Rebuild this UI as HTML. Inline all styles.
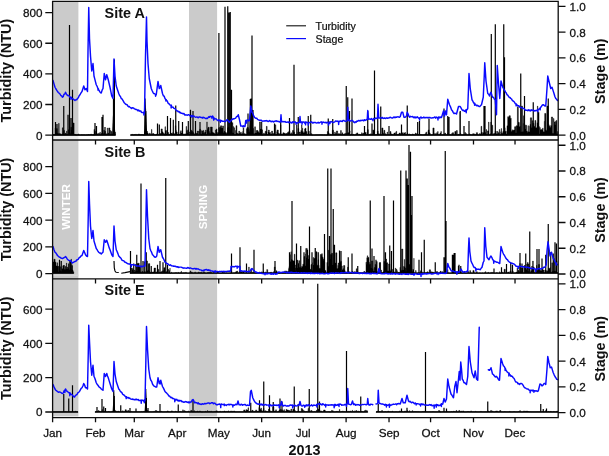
<!DOCTYPE html>
<html><head><meta charset="utf-8"><title>Turbidity and Stage 2013</title>
<style>html,body{margin:0;padding:0;background:#fff}svg{display:block}</style></head>
<body>
<svg width="609" height="456" viewBox="0 0 609 456">
<rect width="609" height="456" fill="#fff"/>
<rect x="52.6" y="1.4" width="25.8" height="134.4" fill="#cbcbcb"/>
<rect x="52.6" y="135.8" width="25.8" height="3.8" fill="#ededed"/>
<rect x="52.6" y="140" width="25.8" height="276.4" fill="#cbcbcb"/>
<rect x="52.6" y="274.6" width="25.8" height="1.2" fill="#d6d6d6"/>
<rect x="189" y="1.4" width="28.1" height="134.4" fill="#cbcbcb"/>
<rect x="189" y="135.8" width="28.1" height="3.8" fill="#ededed"/>
<rect x="189" y="140" width="28.1" height="276.4" fill="#cbcbcb"/>
<rect x="189" y="274.6" width="28.1" height="1.2" fill="#d6d6d6"/>
<text transform="translate(69.5,207) rotate(-90)" text-anchor="middle" font-size="11.6" font-weight="bold" fill="#fff" font-family="'Liberation Sans', sans-serif">WINTER</text>
<text transform="translate(206.8,207) rotate(-90)" text-anchor="middle" font-size="11.6" font-weight="bold" fill="#fff" font-family="'Liberation Sans', sans-serif">SPRING</text>
<path d="M53 135.4 V134.42 H54.2 V134.59 H55.1 V127.96 H55.8 V132.68 H56.2 V128.64 H57.4 V133.42 H57.8 V133.06 H58.2 V133.73 H58.7 V123.31 H59.1 V133.43 H59.5 V133.44 H60.2 V134.33 H60.6 V133.94 H61 V134.64 H61.9 V133.73 H62.4 V127.8 H63.1 V133.95 H63.6 V130.4 H64.5 V134.4 H65 V133.25 H65.9 V134.27 H66.6 V131.13 H67 V134.37 H68.2 V129.87 H68.9 V132.28 H69.8 V133.34 H70.3 V134.56 H70.8 V127.26 H71.7 V130.05 H72.9 V123.02 H74.1 V134.36 H75.3 V134.48 H76 V135.4 Z M76 135.4 V134.85 H76.5 V134.85 H77.4 V134.65 H78.1 V134.82 H78.5 V133.93 H79 V134.85 H79.4 V134.89 H80.6 V134.88 H81 V134.67 H81.4 V134.85 H82.1 V134.85 H83.3 V134.85 H83.8 V134.85 H84.7 V134.87 H85.1 V134.9 H86 V134.85 H86.4 V134.86 H87.1 V134.87 H88 V134.59 H89.2 V134.86 H89.7 V134.69 H90.6 V134.24 H91.8 V134.88 H92.7 V134.49 H93.4 V134.87 H93.9 V134.82 H94 V135.4 Z M94 135.4 V129.39 H94.5 V131.21 H95.4 V134.04 H96.6 V133.77 H97.8 V134.68 H98.5 V133.21 H99.4 V134.56 H99.9 V132.2 H100.3 V134.64 H101 V133.6 H101.9 V134.8 H103.1 V133.38 H103.8 V130.08 H104.3 V133.33 H104.7 V131.27 H105.6 V134.21 H106.5 V133.63 H107.2 V127.97 H107.6 V133.24 H108.3 V132.94 H108.7 V127.97 H109.9 V134.62 H110.4 V130.54 H110.9 V131.46 H111.8 V134.57 H112.7 V134.7 H113.1 V134.6 H114.3 V132.16 H115.5 V135.4 Z M130.5 135.4 V134.83 H131.7 V134.39 H132.9 V134.83 H134.1 V134.6 H135.3 V134.39 H136.5 V134.69 H137.4 V134.78 H138.3 V134.09 H139.5 V134.8 H140.2 V134.78 H140.7 V134.51 H141.4 V134.52 H142.6 V134.79 H143.1 V134.82 H144 V134.8 H144 V135.4 Z M144 135.4 V134.8 H144.7 V131.33 H145.2 V134.86 H145.7 V133.35 H146.6 V131.37 H147.1 V131.36 H147.5 V133.03 H148.2 V134.63 H149.4 V133.2 H150.3 V134.74 H151.5 V129.41 H151.9 V133.65 H152.3 V134.76 H152.7 V133.62 H153.9 V134.76 H154.3 V134.44 H155 V134.8 H156.2 V134.06 H157.1 V134.63 H157.8 V134.63 H158.3 V134.65 H159.5 V133.44 H160.4 V133.61 H161.1 V128.96 H162.3 V131.82 H163 V133.14 H164.2 V134.61 H164.7 V134.01 H165 V135.4 Z M165 135.4 V126.67 H165.4 V130.61 H166.6 V133.93 H167 V133.75 H168.2 V132.46 H168.7 V134.52 H169.9 V133.85 H170.8 V133.35 H172 V134 H172.7 V132.73 H173.2 V133.63 H174.1 V133.77 H175.3 V125.7 H175.8 V130.39 H176.3 V131.93 H177.2 V133.89 H177.6 V134.14 H178 V134.35 H178.5 V134.46 H179.7 V134.02 H180.2 V132.23 H180.6 V130.79 H181.3 V132.88 H182.5 V134.16 H183 V134.8 H183.4 V134.68 H183.8 V133.8 H184.2 V134.45 H184.7 V134.51 H185.2 V134.36 H185.6 V133.72 H186.1 V126.42 H186.6 V130.6 H187.3 V132.7 H187.8 V129.86 H188.5 V134.34 H189.4 V131.89 H189.8 V134.31 H190.2 V132 H190.9 V130.17 H191.6 V131.17 H192.8 V132.53 H193.5 V133.29 H194.2 V134.22 H195.4 V134.2 H196.1 V133.3 H197.3 V131.08 H198.5 V134.63 H199.2 V131.24 H199.7 V129.13 H200.6 V133.97 H201 V133.94 H201.7 V130.6 H202 V135.4 Z M202 135.4 V130.94 H202.7 V132.47 H203.1 V130.38 H203.8 V133.36 H204.7 V131.95 H205.1 V131.98 H205.6 V129.99 H206.1 V134.75 H206.8 V121.9 H207.2 V128.43 H207.6 V129.76 H208 V127.34 H209.2 V131.6 H209.7 V133.28 H210.4 V127.01 H211.1 V127.02 H212.3 V132.28 H213.2 V132.99 H214.1 V133.21 H214.5 V133.82 H215.4 V129.96 H216.3 V128.94 H217 V133.86 H217.5 V132.56 H218.7 V127.79 H219.2 V129.62 H219.6 V127.24 H220.5 V125.76 H221.7 V127.88 H222.6 V125.95 H223.5 V132.59 H224 V131.28 H224.9 V133.03 H225.3 V132.44 H226.2 V133.96 H226.6 V132.92 H227.5 V128.11 H227.9 V127.23 H229.1 V133.09 H229.8 V128.5 H230.2 V130.81 H230.9 V130.46 H231.6 V122.66 H232.8 V132.64 H233.3 V126.6 H233.7 V127.83 H234.6 V134.57 H235.5 V130.48 H236 V125.64 H236.9 V133 H237.6 V133.8 H238.8 V131.02 H239.5 V133.16 H240.7 V131.97 H241.2 V133.72 H241.7 V133.66 H242.2 V133.21 H242.7 V131.58 H243.1 V127.8 H243.8 V133.81 H244.7 V133.6 H245.2 V134.5 H246.4 V128.66 H247.1 V127.37 H247.8 V127.63 H248.5 V129.18 H248.9 V132.31 H249.4 V132.58 H250.3 V133.35 H250.8 V133.72 H251.7 V130.86 H252.2 V127.38 H252.6 V128.53 H253.5 V133.54 H254.7 V126.79 H255.4 V132.93 H256.3 V130.54 H257.5 V130.37 H257.9 V131.71 H258.8 V132.8 H259.5 V121.9 H260.4 V128.88 H261.3 V121.9 H262 V128.21 H262 V135.4 Z M262 135.4 V129.8 H262.4 V134.79 H263.6 V133.11 H264.3 V134.42 H265.2 V131.25 H266.4 V126.36 H267.1 V134.51 H268 V132.02 H268.4 V130.09 H269.3 V132.54 H270.5 V134.53 H270.9 V134.04 H271.6 V131.11 H272.5 V134.66 H272.9 V133.23 H273.4 V134.19 H274.6 V134.68 H275.3 V124.85 H275.8 V134.49 H276.7 V131.8 H277.1 V130.01 H278.3 V133.01 H278.8 V134.69 H279.3 V133.7 H280.5 V124.8 H281 V133.96 H281.7 V134.14 H282.9 V132.8 H284.1 V133.37 H285.3 V133.95 H286 V133.57 H286.9 V133.25 H287.6 V132.3 H288.8 V131.32 H290 V133.87 H290.9 V134.22 H291.3 V132.82 H291.8 V134.01 H292.5 V130.4 H293.7 V132.18 H294.6 V134.72 H295.8 V134.06 H296.5 V124.8 H297 V134.27 H297.5 V132.36 H297.9 V128.54 H298.8 V134.04 H299.2 V132.09 H300.4 V134.02 H300.9 V130.41 H301.6 V124.8 H302 V128.3 H302.7 V131.45 H303.2 V132.75 H304.1 V132.14 H304.6 V129.09 H305.1 V128.25 H306 V131.51 H306.9 V134.17 H307.6 V134.29 H308.1 V133.78 H308.6 V131.18 H309.3 V134.14 H309.7 V134.44 H310.1 V134.54 H311.3 V133.7 H312 V135.4 Z M312 135.4 V134.88 H312.5 V134.89 H313.4 V134.88 H314.1 V134.89 H315.3 V134.87 H316 V134.86 H316.9 V134.87 H317.6 V134.86 H318.8 V134.85 H319.5 V134.68 H320.4 V134.71 H321.1 V134.75 H322 V134.86 H322.5 V134.87 H323 V134.88 H323.7 V134.86 H324.4 V134.87 H325.3 V134.9 H326 V134.88 H326.7 V134.88 H327 V135.4 Z M327 135.4 V134.34 H327.4 V131.54 H328.3 V132.93 H329.2 V134.65 H329.7 V134.77 H330.6 V133.93 H331.1 V134.65 H332.3 V130.13 H333.5 V134.22 H334.2 V134.28 H334.7 V132.1 H335.2 V133.43 H336.4 V130.97 H337.6 V134.24 H338.1 V134.1 H338.5 V133.61 H339.4 V134.12 H340.6 V130.54 H341.3 V134.58 H342 V132.87 H342.7 V134.39 H343.9 V134.15 H344.4 V133.8 H344.9 V134.48 H345.4 V133.35 H345.9 V133.41 H346.8 V134.79 H347.3 V132.92 H348 V132.73 H348.9 V132.5 H349.8 V130.87 H350 V135.4 Z M350 135.4 V134.84 H350.7 V134.56 H351.1 V134.09 H352 V134.76 H353.2 V134.31 H353.9 V134.84 H354.6 V134.78 H355.3 V134.6 H355.8 V133.82 H356.7 V132.91 H357.9 V134.54 H359.1 V134.61 H359.6 V134.04 H360 V134.8 H360.4 V134.62 H361.6 V132.74 H362.1 V134.6 H362.8 V133.07 H363.7 V134.61 H364.1 V133.84 H365 V132.45 H366.2 V134.59 H367.4 V129.65 H368.3 V134.8 H369 V134.13 H369.5 V134.71 H370 V134.4 H370.7 V133.77 H371.1 V134.64 H371.6 V134.07 H372.8 V129.91 H373.3 V130.35 H374 V134.7 H374.5 V134.68 H375.4 V134.58 H376.1 V134.55 H377.3 V131.17 H378.2 V133.82 H379.4 V134.7 H380.6 V134.57 H381.3 V134.78 H381.8 V127.97 H383 V133.14 H383.9 V130.33 H384.8 V134.6 H385.3 V133.74 H386 V134.77 H386.7 V134.8 H387.1 V132.04 H387.6 V134.73 H388.5 V134.58 H388.9 V134.78 H389.4 V134.8 H390.1 V131.59 H391 V133.91 H392.2 V134.57 H392.7 V134.52 H393.2 V134.57 H393.9 V133.08 H395.1 V134.72 H395.6 V132.57 H396 V131.38 H396.7 V134.61 H397.4 V134.61 H397.8 V134.35 H398.7 V134.35 H399.1 V133.04 H400.3 V134.57 H400.7 V133.78 H401.6 V133.83 H402 V133.34 H402.7 V132.62 H403.2 V134.1 H403.9 V132.89 H405.1 V132.49 H405.6 V134.59 H406.8 V134.84 H407.2 V132.92 H407.7 V134.57 H408.9 V133.94 H409.8 V134.74 H410.2 V134.55 H411.1 V134.69 H412.3 V133.91 H413.2 V134.56 H414.4 V134.74 H415.3 V132.95 H415.7 V133.59 H416.1 V134.55 H416.5 V133.72 H417.7 V134.78 H418.1 V134.44 H418.6 V134.84 H419.1 V134.6 H419.6 V134.13 H420.1 V134.56 H421.3 V134.62 H422.2 V134.63 H422.6 V134.73 H423.8 V134.58 H425 V133.66 H425.9 V132.14 H426.8 V134.69 H428 V130.57 H428.4 V129.92 H429.1 V132.82 H430 V133.68 H430.4 V134.75 H431.3 V134.77 H431.7 V134.64 H432.2 V134.43 H432.9 V127.97 H434.1 V134.63 H434.8 V133.22 H435.2 V134.14 H435.9 V134.54 H436.6 V132.75 H437.3 V133.66 H437.7 V131.49 H438.1 V134.58 H438.8 V134.48 H440 V134.64 H440 V135.4 Z M440 135.4 V132.95 H440.4 V133.3 H440.9 V131.48 H441.3 V134.65 H441.7 V134.69 H442.1 V134.67 H443.3 V134.63 H444 V134.77 H444.7 V133.08 H445.6 V134.67 H446.5 V134.62 H446.9 V134.71 H447.6 V133.38 H448.3 V134.63 H449.2 V134.4 H450.4 V134.82 H450.8 V134.82 H451.7 V133.38 H452.4 V132.71 H453.6 V134.74 H454.8 V131.49 H456 V134.79 H456.4 V130.52 H457.3 V134.66 H458 V134.62 H458.5 V134.18 H459.2 V134.61 H459.9 V134.61 H460.6 V133.62 H461 V134.73 H461.7 V134.81 H462.4 V134.78 H463.1 V134.7 H464.3 V134.62 H464.8 V132.54 H465.5 V133.65 H466.7 V134.73 H467.2 V134.74 H467.9 V134.69 H469.1 V133.86 H469.5 V134.2 H470.2 V134.42 H470.6 V134.7 H471.8 V134.75 H472.2 V134.86 H472.7 V133.69 H473.2 V133.84 H474.4 V134.6 H474.9 V134.6 H475.4 V134.58 H476.3 V132.64 H477.5 V134.87 H478 V134.89 H478.7 V134.73 H479.2 V133.52 H479.6 V134.77 H480.5 V133.84 H481 V135.4 Z M481 135.4 V126.33 H481.7 V132.17 H482.2 V134.5 H482.7 V132.82 H483.9 V132.98 H484.3 V134.65 H485 V132.59 H485.5 V133.52 H486 V129.56 H486.5 V134.4 H487.4 V130.92 H487.9 V130.8 H488.6 V122.1 H489 V134.73 H489.9 V133.78 H490.8 V122.1 H491.3 V131.75 H491.8 V125.16 H492.7 V134.79 H493.2 V133.8 H493.9 V133.5 H495.1 V131.27 H496.3 V133.73 H496.7 V133.78 H497.4 V131.35 H497.9 V132.45 H498.6 V133.35 H499.3 V129.44 H499.8 V134.42 H500.7 V131.82 H501.2 V128.55 H501.6 V133.23 H502.8 V131.65 H503.2 V131.51 H504.4 V127.74 H505.1 V131.27 H506.3 V134.31 H507 V133.84 H507 V135.4 Z M507 135.4 V125.75 H507.7 V116.72 H508.4 V117.16 H509.1 V115.69 H510.3 V118.2 H511.2 V131.13 H512.1 V129.79 H512.5 V130.56 H513.4 V129.96 H514.6 V126.73 H515.8 V132.63 H516.2 V125.76 H517.4 V106.82 H518.3 V122.11 H518.8 V122.59 H519.3 V126.98 H519.7 V126.38 H520.4 V131.72 H521.3 V106.1 H521.8 V106.1 H522.5 V131.54 H523.2 V123.45 H523.6 V115.74 H524 V124.45 H524.9 V129.1 H525.4 V125.28 H526.6 V130.92 H527.3 V132.37 H528 V125.71 H528.4 V131.78 H529.6 V126.18 H530 V124.36 H530.4 V117.81 H531.6 V127.47 H532.1 V120.72 H532.8 V123.3 H534 V126.25 H534.9 V120.45 H535.8 V127.71 H537 V122.67 H537.4 V106.1 H537.8 V112.25 H539 V126.52 H539.4 V133.85 H539.8 V127.51 H540.2 V129.7 H541.4 V129.38 H542.6 V128.14 H543.1 V131.64 H544.3 V121.34 H544.7 V113.43 H545.9 V130.18 H546.8 V106.1 H547.2 V106.1 H548.4 V124.24 H548.9 V125.83 H549.8 V127.14 H550.7 V125.49 H551.4 V116.99 H552.6 V133.35 H553.5 V118.49 H554 V121.9 H554.9 V124.83 H555.3 V121.42 H556.2 V120.39 H556.9 V133.84 H557.6 V131.52 H558 V135.4 Z" fill="#000" stroke="#000" stroke-width="0.45"/>
<path d="M53 134.9 H76 M76 134.9 H94 M94 134.9 H115.5 M130.5 134.9 H144 M144 134.9 H165 M165 134.9 H202 M202 134.9 H262 M262 134.9 H312 M312 134.9 H327 M327 134.9 H350 M350 134.9 H440 M440 134.9 H481 M481 134.9 H507 M507 134.9 H558 M55.5 134.9 V122 M57 134.9 V124 M63.75 134.9 V106 M68 134.9 V114.75 M69.5 134.9 V25 M72.5 134.9 V89.75 M71 134.9 V118 M95 134.9 V123 M96.5 134.9 V126 M102 134.9 V117 M103 134.9 V114.75 M105 134.9 V127 M113.5 134.9 V98.5 M114.4 134.9 V59.5 M145 134.9 V98.5 M145.8 134.9 V111 M157.5 134.9 V123.5 M159.3 134.9 V124.5 M167.5 134.9 V116 M170.5 134.9 V118 M173.3 134.9 V119.7 M175.75 134.9 V105.5 M178.7 134.9 V121 M182.5 134.9 V122 M188.3 134.9 V121 M190.5 134.9 V109.75 M193 134.9 V111 M195.5 134.9 V121 M200 134.9 V122 M218.9 134.9 V33 M225 134.9 V6.75 M227.75 134.9 V6.25 M229 134.9 V12.5 M230.25 134.9 V12 M231.5 134.9 V89.75 M248 134.9 V113.5 M250.3 134.9 V99 M251 134.9 V98.5 M252 134.9 V35.5 M253 134.9 V110 M274.5 134.9 V123.5 M280.7 134.9 V122 M289.5 134.9 V118 M294 134.9 V64.75 M298.25 134.9 V117 M308.25 134.9 V116 M310.75 134.9 V114.75 M328.25 134.9 V118.5 M332.75 134.9 V119 M346.25 134.9 V86 M347.75 134.9 V97.25 M349.5 134.9 V111 M352 134.9 V98.5 M364.5 134.9 V126 M367.75 134.9 V111 M372 134.9 V123.5 M374.5 134.9 V70.5 M377.75 134.9 V112 M380.75 134.9 V106.5 M389 134.9 V126 M401.5 134.9 V124.5 M407.25 134.9 V105.5 M417.7 134.9 V122 M419.5 134.9 V121 M429 134.9 V118.5 M444 134.9 V108.5 M447.75 134.9 V116 M449 134.9 V117 M460.25 134.9 V111 M464 134.9 V126 M469 134.9 V121 M460 134.9 V112 M485 134.9 V106 M484 134.9 V106 M491.3 134.9 V34 M495.3 134.9 V24.25 M503.75 134.9 V24.25 M504.5 134.9 V57.25 M520.75 134.9 V73.5 M524.5 134.9 V96 M533.25 134.9 V102.25 M548.25 134.9 V98.5" fill="none" stroke="#000" stroke-width="1.2"/>
<path d="M112.1 134.9 L113.7 98.5 L115.3 134.9 Z" fill="#000"/>
<path d="M144 134.9 L145.6 98.5 L147.2 134.9 Z" fill="#000"/>
<path d="M249 134.9 L250.8 98.5 L252.6 134.9 Z" fill="#000"/>
<polyline points="53,80.5 54,83.88 55,87.25 55.83,88.75 56.67,90.04 57.5,91.5 58.33,92.46 59.17,93.18 60,94 60.83,95.49 61.67,95.89 62.5,97.25 63.25,96.43 64,94.11 64.75,94.15 65.5,92.25 66.5,94.04 67.5,95.5 68.33,95.4 69.17,96.05 70,97.25 70.83,97.31 70.98,99.34 71.13,97.31 71.67,98 72.5,98.5 73.33,99.19 74.17,99.83 75,100.5 75.83,99.77 76.67,99.86 77.5,98.5 78.33,97.73 79.17,95.74 80,94.75 81,92.83 82,91.5 82.88,88.75 83.75,86 85,89.75 86.25,88.5 87.5,91.5 88,51 88.75,7.5 89.5,38.5 90.5,56 91.75,71 93,63.5 94,76 94.75,78.92 95.5,81.83 96.25,84.75 97.08,86.26 97.92,88.57 98.07,90.15 98.22,88.57 98.75,89.75 99.58,91.41 100.42,92.59 101.25,93 102.12,90.15 103,88.5 104.25,73.5 105.5,79.75 106.75,74.75 107.5,77.25 108.25,79.75 109.12,83.5 110,87.25 110.88,91.62 111.75,96 113,98.5 114,59 115,76 116.25,86 117.08,88.5 117.92,91 118.75,93.5 119.58,95.53 120.42,96.48 121.25,98.5 122,98.88 122.75,100.05 123.5,101.43 124.25,102.82 125,103.5 125.71,104.24 126.43,104.46 127.14,104.78 127.86,106.07 128.57,106.72 129.29,106.57 130,107.25 130.71,107.7 131.43,108.44 132.14,107.66 132.86,108.01 133.57,107.9 134.29,108.87 135,109 135.71,109.43 136.43,109.51 137.14,109.83 137.86,110.66 138.57,109.94 139.29,111.16 140,111 140.75,110.9 141.5,112.28 142.25,112.63 143,112.48 143.75,112.11 143.9,115.04 144.05,112.11 144.5,113 145.5,56 146.5,17 147,41 148,63.5 149.25,78.5 150.25,83.5 151.25,88.5 152.08,90.45 152.92,92.29 153.75,93.5 154.58,93.63 155.42,94.64 155.57,96.25 155.72,94.64 156.25,94.75 157.12,88.12 158,81.5 159.25,88.5 160,87.49 160.75,85.5 161.62,89.5 162.5,93.5 163.33,95.75 164.17,96.16 165,98.5 165.75,99.42 165.9,100.94 166.05,99.42 166.5,100.32 167.25,100.98 168,103.05 168.75,103.5 169.5,104.47 170.25,105.12 171,105.1 171.15,107.94 171.3,105.1 171.75,106.78 172.5,107.25 173.21,107.12 173.93,108.3 174.64,108.6 175.36,108.8 176.07,110.26 176.79,110.8 177.5,111 178.21,111.77 178.93,111.51 179.64,112.63 180.36,112.31 181.07,113.29 181.79,113.32 182.5,113.5 183.21,113.87 183.93,113.41 184.64,114.94 185.36,114.82 186.07,115.08 186.79,114.92 187.5,115.25 188.21,114.77 188.93,114.81 189.64,115.54 190.36,115.96 191.07,115.95 191.79,115.55 191.94,117.29 192.09,115.55 192.5,116 193.21,116.43 193.93,115.89 194.64,116.76 195.36,117.26 196.07,117.13 196.79,116.97 197.5,117.25 198.25,117.83 199,117.09 199.75,116.99 200.5,117.25 201.25,117.74 202,117.25 202.75,118.13 203.5,117.29 204.25,117.69 205,118.13 205.75,118.5 206.5,118.24 207.25,118.47 208,117.68 208.75,116.84 209.5,117.25 210.25,116.3 211,116.72 211.75,116.72 211.9,118.17 212.05,116.72 212.5,116 213.5,117.44 213.65,120.13 213.8,117.44 214.5,119 215.21,118.85 215.93,118.79 216.64,119.57 217.36,120.07 218.07,120.71 218.79,119.86 219.5,120.5 220.21,120.19 220.36,122.24 220.51,120.19 220.93,121.09 221.64,120.61 222.36,121.35 223.07,121.37 223.79,121.21 224.5,121.5 225.33,121.49 226.17,120.94 227,119.75 227.83,120.07 228.67,121.59 229.5,122.25 230.33,120.99 231.17,120.61 232,119 232.75,119.42 233.5,118.81 234.25,118.71 235,118.4 235.75,118 236.58,116.52 237.42,116.51 238.25,114.75 239.5,119.75 240.75,126 241.46,126.14 242.17,125.92 242.88,126.75 243.58,125.75 244.29,126.49 245,126.5 245.75,120.5 246.5,120.48 246.65,123.14 246.8,120.48 247.25,119.89 248,120.04 248.75,120.9 249.5,120.5 250.75,106 252,112.25 252.83,113.42 253.67,115.9 254.5,117.25 255.25,118.02 256,118.24 256.75,118.17 257.5,119.29 258.25,119.75 259.03,120.23 259.81,120.09 260.59,120.3 261.38,120.21 262.16,121.09 262.94,121.18 263.72,120.88 264.5,121 265.24,120.61 265.97,121.06 266.71,120.43 267.44,121.14 268.18,121.57 268.91,121.16 269.65,120.6 270.38,121.11 271.12,121.86 271.85,121.26 272.59,121.23 273.32,121.91 274.06,121.13 274.79,121.58 275.53,120.92 276.26,120.8 277,121.5 277.7,121.17 278.4,121.35 279.1,121.82 279.8,122.02 280.5,121.75 281,114.75 281.5,121.75 282.23,121.81 282.95,121.42 283.68,121.8 284.41,121.81 285.14,121.5 285.86,122.21 286.59,122.11 287.32,122.27 288.05,121.78 288.77,122.64 289.5,122.25 290.21,122.01 290.93,122.88 291.64,123 292.36,121.81 293.07,122.66 293.79,121.79 294.5,122.27 295.21,121.87 295.93,122.67 296.08,124.23 296.23,122.67 296.64,122.68 297.36,123.1 298.07,122.47 298.79,122.49 299.5,122.5 300,116.5 300.5,122.5 301.2,122.06 301.9,121.95 302.05,124.14 302.2,121.95 302.6,122.52 303.3,122.01 304,122.09 304.7,123.19 305.4,121.93 305.55,124.85 305.7,121.93 306.1,122.45 306.8,122.26 307.5,122.52 308.2,122.64 308.35,125.1 308.5,122.64 308.9,122.98 309.6,122.44 310.3,122.37 311,122.03 311.7,121.82 312.4,122.92 313.1,123.01 313.8,122.37 314.5,122.5 315.24,122.49 315.97,122.9 316.71,123.03 317.44,122.83 318.18,122.29 318.91,122.94 319.65,122.77 320.38,122.25 321.12,121.77 321.85,122.31 322,124.15 322.15,122.31 322.59,122.53 323.32,121.95 324.06,122.54 324.79,122.52 325.53,122.33 326.26,122.96 327,122.25 327.71,122.48 328.43,122.81 328.58,125.12 328.73,122.81 329.14,122.42 329.86,121.9 330.01,123.45 330.16,121.9 330.57,121.81 331.29,121.58 332,121.95 332.71,122.48 333.43,122.46 334.14,122.15 334.86,121.8 335.57,120.97 336.29,121.08 337,121.5 337.75,120.99 338.5,121.56 338.65,124.46 338.8,121.56 339.25,121.24 340,121.44 340.75,120.95 341.5,121.28 342.25,121.45 343,120.42 343.75,120.41 344.5,121 345.42,121.19 346.33,121.22 347.25,120.5 347.75,107.25 348.5,120.5 349.2,119.87 349.9,121.12 350.6,121.07 351.3,120.47 352,120.5 353,121.02 354,122.25 354.75,122.69 355.5,121.86 356.25,122.17 357,121.01 357.75,121.31 358.5,120.57 359.25,120.5 360,121.09 360.75,120.34 361.5,120.5 362.21,120.28 362.93,120.33 363.64,120.81 364.36,119.71 365.07,120.51 365.79,120.03 366.5,119.75 367.25,119 367.75,110.5 368.5,119.25 369.23,118.86 369.95,119.2 370.68,119.23 371.41,118.54 372.14,119.58 372.86,119.37 373.01,120.68 373.16,119.37 373.59,118.45 374.32,118.88 375.05,118.69 375.77,117.99 376.5,118.5 377.5,118 378,104.25 378.75,118 379.48,118.07 380.21,117.82 380.95,117.59 381.68,118.34 382.41,117.4 383.14,118.43 383.88,118.38 384.61,117.89 385.34,118.43 386.07,118.22 386.8,117.76 387.54,118.34 388.27,117.9 389,118 389.75,117.36 390.5,117.26 391.25,117.86 392,117.96 392.75,118.01 393.5,117.15 394.25,116.89 395,117.71 395.75,117.02 396.5,117.25 397.25,116.9 398,116.76 398.75,117.09 399.5,117.24 400.25,116.5 401.5,112.25 402.75,112.25 404,117.25 404.83,117.41 405.67,116.84 406.5,116 407.25,112.25 408.12,114.12 409,116.5 409.75,117.21 410.5,116.35 411.25,116.61 412,116.75 412.75,116.57 413.5,117.52 414.25,117.67 415,116.85 415.75,117.93 416.5,117.5 417.24,116.83 417.97,117.56 418.71,118.15 419.44,117.93 419.59,120.11 419.74,117.93 420.18,117.9 420.91,116.91 421.65,118.06 422.38,117.69 423.12,117.84 423.85,117.14 424.59,117.87 425.32,117.87 426.06,117.27 426.79,117.74 427.53,117.55 428.26,117.79 429,117.5 429.74,117.37 430.47,117.73 431.21,117.93 431.94,118.04 432.68,117.7 433.41,117.79 434.15,117.39 434.88,117 435.62,118.19 436.35,117.03 437.09,117.39 437.82,118.16 437.97,119.91 438.12,118.16 438.56,116.96 439.29,117.89 440.03,116.89 440.76,117.62 441.5,117.5 442.5,114.25 443.5,111 444.5,116 445.5,111 446.5,114.75 447.75,99.25 448.62,102 449.5,104.75 450.5,106.81 451.5,109.75 452.33,110.63 453.17,112.38 454,113.5 454.83,113.23 455.67,113.37 456.5,114 457.5,110.25 458.5,106.5 459.38,106.57 460.25,106.5 461.12,108.1 462,109.75 462.81,110.6 463.62,110.15 464.44,111.33 465.25,111 466.08,109.78 466.23,112.68 466.38,109.78 466.92,109.76 467.75,108.5 468.5,88.5 469,73.5 470.25,88.5 471.12,94.12 472,99.75 472.81,101.02 473.62,102.94 474.44,103.13 474.59,105.18 474.74,103.13 475.25,104.75 476,104.92 476.75,105.75 477.5,105.32 478.25,105.9 479,106.5 479.83,106.43 480.67,105.53 481.5,104.75 482.38,101 483.25,97.25 484.25,76 484.75,62.75 486,81 486.88,87.25 487.75,93.5 488.62,94.26 489.5,96 490.25,93.43 491,92.25 491.88,95.23 492.75,97.25 493.58,97.5 494.42,99.22 495.25,99.75 496.5,114.75 497.25,65.5 498.5,83.5 499.75,98.5 501,81 501.88,84.12 502.75,87.25 503.46,88.46 504.17,89.87 504.88,90.73 505.58,92.13 506.29,92.93 507,94.75 507.75,95.09 508.5,96.29 509.25,97.46 510,97.49 510.75,98.5 511.5,98.98 512.25,100.3 513,101.01 513.75,101.35 514.5,102.25 515.25,103.65 516,103.97 516.15,105.84 516.3,103.97 516.75,104.79 517.5,105.34 518.25,106 519,105.71 519.75,107.22 520.5,107.36 521.25,107.43 522,108 522.71,108.04 523.43,108.49 524.14,108.62 524.86,109.61 525.57,110.23 526.29,110.24 527,110.25 527.71,110.74 528.43,109.82 529.14,110.61 529.86,109.94 530.57,110.9 531.29,109.89 532,110.5 532.71,110.02 533.43,110.37 534.14,111.09 534.86,110.52 535.57,110.87 536.29,110.34 537,110.5 537.75,109.73 537.9,111.65 538.05,109.73 538.5,109.48 539.25,108.96 540,108.05 540.15,109.85 540.3,108.05 540.75,107.25 541.58,106.2 542.42,105.03 543.25,104.75 544.08,105.18 544.92,106.04 545.75,106 547,88.5 547.75,76 548.62,79.75 549.5,83.5 550.75,88.5 552,87.25 553,90.38 554,93.5 554.88,96.56 555.75,98.5 556.62,99.29 557.5,100.5" fill="none" stroke="#0a0aff" stroke-width="1.45" stroke-linejoin="round" stroke-linecap="round"/>
<path d="M53 273.5 V262.1 H53.5 V261.91 H53.9 V259.24 H55.1 V262.16 H56 V265.9 H57.2 V262.74 H57.6 V266.36 H58.8 V272.06 H59.3 V270.62 H60.5 V266.74 H61 V271.48 H61.9 V268.67 H62.8 V265.79 H64 V269.56 H65.2 V266.49 H66.4 V263.02 H66.8 V268.97 H67.3 V267.08 H67.8 V268.37 H68.5 V269.28 H68.9 V269.75 H69.4 V261.46 H69.8 V260.17 H70.2 V261.82 H71.1 V259.21 H71.5 V268.42 H71.9 V265.98 H72.3 V269.99 H73 V271.4 H73.4 V271.9 H73.75 V273.5 Z M130 273.5 V272.81 H131.2 V268.11 H132.4 V269.44 H133.3 V271.64 H134 V271.64 H134.4 V270.1 H135.1 V271.32 H135.5 V264.23 H135.9 V267.26 H136.4 V271.04 H137.1 V263.56 H138 V263.25 H139.2 V266.4 H140.4 V271.78 H141.1 V272.54 H141.6 V272.18 H142 V271.53 H142.5 V271.56 H142.9 V272.21 H144.1 V261.76 H144.8 V271.02 H145.2 V272.38 H145.6 V272.01 H146.3 V260.96 H147.5 V271.08 H147.9 V269.98 H148.6 V272.28 H149 V263.65 H149.7 V271.14 H150 V273.5 Z M150 273.5 V272.55 H151.2 V272.27 H151.9 V272.33 H152.4 V272.02 H153.1 V271.89 H154 V268.11 H154.7 V268.02 H155.6 V272.2 H156.5 V271.88 H157.2 V272.77 H158.1 V269.39 H158.8 V272.35 H160 V272.6 H160.5 V272.07 H161.7 V271.04 H162.6 V272.73 H163.1 V270.38 H163.8 V267.7 H165 V272.26 H165.4 V272.78 H165.9 V271.72 H167.1 V272.72 H168.3 V269.38 H169 V270.53 H169.5 V271.58 H170 V268.01 H170 V273.5 Z M170 273.5 V272.91 H170.7 V272.9 H171.2 V272.3 H171.9 V272.94 H172.8 V272.77 H173.2 V272.9 H173.6 V272.86 H174.3 V272.86 H175 V272.73 H175.4 V272.59 H176.6 V272.87 H177 V272.93 H177.7 V272.41 H178.2 V272.35 H178.7 V272.87 H179.6 V272.94 H180.3 V272.53 H181 V271.39 H181.5 V272.86 H182.2 V272.86 H183.1 V272.6 H183.5 V272.95 H183.9 V272.85 H184.3 V272.86 H184.8 V272.43 H186 V272.42 H186.7 V272.89 H187.2 V272.89 H187.9 V272.97 H189.1 V272.8 H189.6 V272.87 H190.1 V270.96 H190.8 V272.9 H191.2 V272.11 H192.4 V272.88 H192.9 V272.93 H193.6 V272.7 H194.8 V271.94 H195.5 V272.91 H195.9 V272.92 H196.6 V272.66 H197.3 V272.9 H197.7 V272.9 H198.2 V272.08 H198.9 V272.4 H199.8 V272.87 H200.2 V272.48 H200.9 V272.89 H201.6 V271.89 H202 V272.88 H202.5 V272.92 H203.4 V271.76 H204.3 V272.54 H205.2 V272.93 H206.4 V272.9 H207.3 V272.42 H208.2 V272.85 H208.6 V272.24 H209.8 V272.88 H210.5 V271.64 H210.9 V272.93 H211.3 V272.39 H211.7 V272.99 H212.1 V272.91 H212.5 V272.88 H213.7 V272.02 H214.9 V272.55 H215.6 V272.85 H216 V272.92 H216.5 V272.71 H217 V272.23 H217.7 V272.03 H218.4 V272.73 H219.1 V272.9 H219.8 V272.94 H221 V272.92 H222.2 V272.02 H223.4 V272.95 H224.3 V272.23 H224.7 V272.89 H225.9 V272.76 H226.8 V272.91 H227.3 V272.89 H228.5 V272.94 H229.2 V272.87 H229.6 V272.9 H230 V272.9 H230.7 V272.86 H231 V273.5 Z M231 273.5 V271.58 H231.9 V272.9 H232.8 V272.84 H233.7 V272.76 H234.2 V272.86 H234.7 V272.86 H235.1 V272.2 H236 V271.44 H237.2 V271.08 H237.7 V272.74 H238.6 V272.73 H239.5 V271.21 H240.4 V272.73 H240.9 V271.77 H241.6 V271.82 H242 V272.92 H242.4 V271.19 H243.3 V271.99 H244 V272.85 H244.5 V272.8 H245.7 V272.68 H246.6 V272.84 H247.5 V272.83 H248.7 V267.06 H249.2 V272.99 H249.9 V272.78 H250.3 V271.56 H251.2 V268.81 H251.6 V272.72 H252.3 V272.15 H253.5 V272.72 H253.9 V272.7 H254.4 V272.72 H255.1 V272.8 H255.5 V272.66 H256.4 V272.7 H256.8 V272.79 H257.7 V272.99 H258.1 V272.73 H259 V272.74 H259.4 V271.95 H260.1 V272.79 H261 V271.95 H262.2 V272.92 H263.1 V271.49 H263.6 V272.73 H264.3 V272.75 H265.2 V271.97 H265.9 V272.68 H266.8 V269.59 H267.2 V269.68 H267.7 V272.71 H268.2 V272.64 H268.9 V272.75 H270.1 V272.2 H270.5 V272.84 H271 V272.13 H271.5 V272.86 H272 V272.73 H272.5 V272.88 H273.4 V271.77 H273.9 V271.87 H274.3 V267.06 H275.2 V272.86 H276.1 V270.87 H277 V272.18 H277.9 V272.87 H278.8 V272.98 H279.7 V272.78 H280.4 V272.42 H280.8 V272.72 H282 V272.42 H282.5 V272.83 H283.4 V272.68 H284.3 V271.71 H284.7 V270.94 H285.6 V272.78 H286.1 V271.02 H286.8 V272.77 H287.5 V271.4 H288.4 V271.34 H288.8 V268.55 H289 V273.5 Z M289 273.5 V266.63 H289.5 V261.56 H290.4 V254.64 H290.9 V251.76 H291.3 V259.43 H292 V260.33 H292.7 V260.39 H293.1 V261.09 H294.3 V254.25 H295 V264.99 H295.5 V268.05 H295.9 V270.62 H296.3 V267.97 H297.2 V260.03 H297.7 V260.51 H298.1 V263.32 H299 V260.64 H299.7 V267.16 H300.4 V267.85 H301.6 V266.53 H302.8 V264.29 H304 V256.52 H304.9 V265.77 H305.4 V254 H305.8 V248.4 H306.3 V257.49 H306.7 V248.4 H307.2 V252.14 H307.6 V255.45 H308.5 V259.05 H309.4 V270.61 H309.8 V269.32 H311 V264.56 H311.9 V270.17 H312.6 V262.77 H313.1 V257.49 H313.6 V264.91 H314 V258.58 H314.9 V257.91 H315.8 V251.77 H317 V265.1 H317.7 V266.02 H318.1 V259.79 H318.6 V265.34 H319.1 V268.31 H320.3 V254.45 H321.5 V255.59 H321.9 V257.3 H323.1 V260.24 H323.5 V258.96 H324.4 V261.89 H324.8 V270.62 H326 V272.44 H326.9 V262.52 H327.8 V266.36 H328.5 V250.17 H329.4 V259.7 H329.8 V258.96 H330.3 V254.62 H331.5 V253.28 H332.7 V265.09 H333.9 V263.25 H334.8 V263.06 H335.7 V252.87 H336.9 V268.6 H337.8 V265.49 H338.2 V262.98 H338.9 V268.06 H339.8 V260.54 H340 V273.5 Z M340 273.5 V262.4 H340.7 V261.44 H341.4 V271.51 H341.8 V265.91 H342.2 V269.84 H343.1 V268.62 H343.6 V265.59 H344.8 V269.83 H345 V273.5 Z M345 273.5 V271.76 H345.5 V272.06 H346.4 V272.12 H346.9 V272.83 H347.6 V267.13 H348.3 V272.73 H349 V271.93 H350.2 V272.71 H350.9 V272.89 H351.3 V272.78 H351.7 V272.73 H352.2 V271.21 H352.7 V272.73 H353.1 V272.07 H354 V271.8 H355.2 V271.87 H355.6 V272.79 H356.3 V268.78 H357.2 V271.84 H358.1 V272.76 H359.3 V272.87 H360.5 V272.84 H361 V272.88 H361.5 V272.71 H362.4 V272.73 H362.9 V272.8 H363.8 V271.47 H365 V272.84 H365.4 V272.74 H365.8 V272.84 H366 V273.5 Z M366 273.5 V262.14 H366.4 V264.31 H366.8 V257.8 H367.3 V255.79 H367.8 V257.99 H368.2 V262.33 H369.4 V264.22 H370.6 V268.09 H371.5 V260.97 H372.7 V268.72 H373.1 V270.89 H374.3 V267.57 H375.2 V264.32 H375.6 V265.36 H376.3 V261.61 H377.2 V271.95 H377.7 V271.57 H378.1 V271.13 H379.3 V262.7 H380 V273.5 Z M380 273.5 V272.72 H381.2 V270.07 H381.6 V272.84 H382.8 V272.43 H383 V273.5 Z M383 273.5 V271.77 H383.9 V261.41 H384.8 V266.5 H385.3 V268.18 H386 V259 H386.5 V262.81 H387.7 V270.65 H388.6 V264.04 H389.8 V270.81 H391 V269.14 H391.7 V272.56 H392.6 V269.42 H393 V273.5 Z M393 273.5 V272.86 H393.4 V272.39 H394.1 V272.01 H395.3 V268.07 H395.7 V272.75 H396.2 V269.27 H396.9 V270.81 H397.4 V272.87 H397.9 V272.37 H398.3 V272.12 H398.7 V272.72 H399.2 V272.81 H399.6 V272.26 H400 V273.5 Z M400 273.5 V267.39 H400.4 V270.29 H401.6 V249 H402.8 V269.92 H403.5 V266.42 H404.2 V259.44 H404.6 V266.5 H405 V269.79 H405.5 V267.94 H405.9 V271.49 H407.1 V263.32 H407.8 V267.59 H409 V264.82 H409.4 V264.48 H410.3 V264.98 H411 V259.35 H411.5 V271.48 H412.7 V269.52 H413.9 V258.23 H414 V273.5 Z M414 273.5 V272.8 H414.5 V272.87 H415.2 V272.92 H415.6 V270.52 H416.1 V272.96 H417.3 V272.9 H418 V272.81 H418.7 V272.8 H419.1 V272.82 H419.6 V272.66 H420 V272.81 H420.5 V270.81 H420.9 V272.46 H421.3 V271.84 H422.2 V272.89 H422.7 V272.86 H423.2 V272.83 H424.1 V272.93 H424.6 V272.88 H425.5 V272.65 H426 V272.41 H426.7 V272.82 H427.2 V271.83 H428.1 V272.79 H429.3 V269.81 H430.5 V271.83 H431.7 V272.92 H432.2 V272.04 H433.4 V272.83 H433.9 V272.75 H434.8 V272.85 H435.3 V272.87 H435.7 V272.15 H436.4 V271.62 H437.6 V272.94 H438.8 V272.86 H439.5 V272.81 H439.9 V272.91 H440 V273.5 Z M440 273.5 V271.33 H441.2 V272.72 H441.9 V271.77 H442.8 V272.84 H444 V272.79 H444.4 V272.76 H445.1 V272.11 H445.8 V271.73 H447 V272.72 H447.5 V269.61 H448 V272.75 H448.4 V272.74 H448.9 V272.88 H449.8 V272.9 H451 V272.75 H451.4 V272.76 H451.9 V272.9 H453.1 V272.78 H454 V271.95 H454.9 V272.7 H455.8 V272.47 H456.3 V272.03 H457.5 V272.77 H458 V273.5 Z M458 273.5 V272.74 H458.7 V272.93 H459.9 V271.22 H461.1 V272.93 H461.8 V272.94 H463 V272.54 H463.9 V272.25 H464.8 V272.93 H465.7 V272.86 H466.4 V272.92 H466.8 V272.9 H467.7 V271.52 H468.6 V272.93 H469.8 V270.62 H470.2 V270.71 H470.6 V272.76 H471.3 V272.77 H471.7 V272.88 H472.9 V270.62 H474.1 V272.71 H474.8 V272.95 H476 V272.63 H476.4 V271.74 H477.3 V272.9 H477.7 V272.88 H478.1 V272.93 H478.6 V272.94 H479.1 V272.87 H479.8 V272.85 H480.3 V272.96 H480.7 V272.88 H481.6 V272.93 H482.5 V272.68 H482.9 V272.91 H483.4 V272.91 H483.8 V272.91 H484.3 V272.88 H484.7 V272.26 H485.4 V271.67 H485.9 V272.9 H486.8 V272.86 H487.3 V272.81 H488.2 V272.33 H488.9 V272.97 H489.4 V272.88 H489.9 V272.92 H490.6 V272.41 H491.8 V272.93 H492.2 V272.41 H493.1 V272.88 H493.5 V272.65 H494 V272.93 H494.5 V272.96 H494.9 V272.91 H496.1 V272.6 H496.6 V272.78 H497.8 V272.96 H499 V272.97 H499.5 V271.77 H499.9 V272.96 H500 V273.5 Z M500 273.5 V272.8 H500.4 V272.89 H501.3 V272.67 H501.7 V272.85 H502.1 V272.14 H502.8 V272.76 H503.2 V272.86 H504.1 V269.3 H505.3 V272.77 H506.5 V272.82 H507.7 V272.09 H508.9 V272.5 H509.4 V272.9 H509.9 V271.12 H511.1 V272.89 H512 V272.58 H512.7 V270.93 H513.1 V272.76 H513.8 V272.78 H514.5 V272.8 H515.2 V272.76 H515.9 V272.11 H517.1 V268.05 H517.6 V272.03 H518 V273.5 Z M518 273.5 V270.17 H518.9 V271.72 H519.8 V263.48 H520.3 V267.56 H520.8 V271.41 H521.3 V268.08 H522.5 V268.05 H523.2 V272.49 H524.1 V265.5 H525 V268.04 H525.5 V269.45 H526.7 V264.07 H527.4 V271.23 H528.3 V263.96 H529 V266.59 H529.5 V272.14 H530.7 V270.66 H531.9 V268.78 H532.6 V261.1 H533.3 V267.11 H534.2 V272.28 H535.4 V272.37 H536.1 V271.38 H536.5 V265.47 H537 V270.55 H537.9 V269.35 H538.4 V264.42 H539.6 V270.14 H540.8 V271.02 H542 V268.23 H542.7 V269.92 H543.9 V272.36 H544.4 V272.52 H544.8 V270.04 H546 V272.31 H546.5 V270.85 H546.9 V271.2 H547.6 V270.83 H548.3 V268.31 H549.5 V268.58 H550 V267.7 H550.5 V271.95 H551.4 V272.5 H551.8 V262.86 H552.5 V271.26 H553.7 V258.8 H554.4 V270.95 H555.6 V272.54 H556.1 V267.25 H556.6 V260.94 H557 V272.69 H557.5 V272.49 H558 V273.5 Z" fill="#000" stroke="#000" stroke-width="0.45"/>
<path d="M53 273 H73.75 M130 273 H150 M150 273 H170 M170 273 H231 M231 273 H289 M289 273 H340 M340 273 H345 M345 273 H366 M366 273 H380 M380 273 H383 M383 273 H393 M393 273 H400 M400 273 H414 M414 273 H440 M440 273 H458 M458 273 H500 M500 273 H518 M518 273 H558 M55 273 V262.25 M59.5 273 V259.75 M61.25 273 V261 M68.75 273 V263.5 M72 273 V264.75 M57 273 V266 M64 273 V265 M130.5 273 V251 M133.75 273 V263.5 M136.75 273 V254.75 M141 273 V183.5 M143 273 V261 M146.25 273 V252.25 M148.75 273 V263.5 M151.25 273 V266 M157.5 273 V264.75 M160 273 V261 M163 273 V262.25 M165.75 273 V178 M167.5 273 V264.75 M231.5 273 V253.5 M240 273 V247.25 M246.5 273 V263.5 M254 273 V249.75 M263.25 273 V263.5 M275 273 V261 M289.5 273 V252.25 M292 273 V201 M296.5 273 V243.5 M300.75 273 V246 M304 273 V252.25 M307.5 273 V249.75 M309.5 273 V226.5 M312 273 V252.25 M315.25 273 V248 M318.25 273 V252.25 M322 273 V253.5 M324.5 273 V234 M327.75 273 V168.5 M329.5 273 V236 M331 273 V168.5 M333.25 273 V209 M334.5 273 V244.75 M339.5 273 V250.5 M341 273 V251 M348.25 273 V257.25 M352 273 V253.5 M357.75 273 V266 M368.5 273 V257.25 M370.25 273 V200.5 M372 273 V248.5 M374 273 V256 M376 273 V259.75 M380.25 273 V262.25 M384 273 V196 M385.5 273 V252.25 M389.75 273 V245.5 M391.5 273 V251 M393.5 273 V200.5 M400.75 273 V170.5 M406 273 V170.5 M407.25 273 V178.5 M409 273 V145 M410.5 273 V151.75 M412 273 V196 M408 273 V185 M411 273 V215 M419 273 V259.75 M421.5 273 V252.25 M424.25 273 V239.75 M435.25 273 V262.25 M444 273 V257.25 M445.25 273 V151 M446 273 V221 M452.4 273 V254.75 M453.2 273 V254.75 M454.2 273 V253 M455 273 V253 M458.5 273 V266 M459 273 V264.75 M460.75 273 V266 M494 273 V268.5 M501.5 273 V267.25 M506.5 273 V264 M510.75 273 V262.25 M512.5 273 V264.75 M520 273 V253 M522 273 V263.5 M525.75 273 V253.5 M527.75 273 V262.25 M529.75 273 V231.5 M532 273 V266 M537 273 V249 M539 273 V249 M542 273 V258.5 M545.75 273 V254.75 M548.25 273 V224 M550.75 273 V252.25 M553.25 273 V253.5 M555 273 V242.25 M556.5 273 V243.5" fill="none" stroke="#000" stroke-width="1.2"/>
<polyline points="114,261 114.3,268 115,271 116,272.3 118.75,272.5" fill="none" stroke="#000" stroke-width="1.15"/>
<polyline points="121.25,273.2 125,272.6 130,271.6" fill="none" stroke="#000" stroke-width="1.15"/>
<polyline points="53,246.5 54,249.79 55,252.25 55.83,252.9 56.67,254.13 57.5,255.5 58.33,256.22 59.17,257.02 60,257.25 60.83,258.08 61.67,258.17 62.5,258.5 63.25,258.17 64,257.69 64.75,257.34 65.5,256.5 66.33,257.41 67.17,258.98 68,259.75 68.83,260.39 69.67,260.67 70.5,260.5 71.5,261.93 72.5,263 73.33,262.28 74.17,261.83 75,261.5 75.83,261.33 76.67,260.01 77.5,259.75 78.33,259.07 79.17,257.68 80,257.25 81,255.95 82,255.5 82.88,253.01 83.75,250.5 84.62,252.54 85.5,254.75 86.5,256 87.5,256.5 88.25,216 88.75,181.5 89.5,203.5 90.5,226 91.75,238.5 93,230.5 94,241 94.75,243.5 95.5,246 96.25,248.5 97.08,249.57 97.92,251.04 98.75,252.25 99.58,252.99 100.42,253.05 101.25,254 102.12,253 103,252.25 104.25,239.75 105.5,242.25 106.75,240.25 107.5,242.5 108.25,244.75 109.12,247.64 110,249.75 110.88,252.26 111.75,254.75 113,256.5 114,226 115,241 116.25,249.75 117.08,251.47 117.92,253.62 118.75,256 119.5,256.76 120.25,257.67 121,258.28 121.75,259.87 122.5,260.5 123.21,260.66 123.93,260.95 124.64,262.08 125.36,262.18 126.07,262.64 126.79,263.15 127.5,263.5 128.21,263.9 128.93,264.06 129.64,263.9 130.36,264.5 131.07,264.79 131.22,266.89 131.37,264.79 131.79,264.69 132.5,264.75 133.21,264.63 133.93,265.05 134.64,264.87 135.36,265.33 136.07,265.39 136.79,266.15 137.5,266 138.21,265.87 138.93,266.12 139.64,266.07 140.36,266.67 141.07,265.94 141.79,266.74 142.5,266.5 143.33,266.07 144.17,266.06 145,266 145.75,228.5 146.5,189.75 147.5,216 148.75,238.5 150,248.5 150.83,250.78 151.67,252.44 152.5,254.75 153.33,255.37 154.17,256.57 155,257.25 155.88,256.98 156.75,256 158,246.5 159.25,252.25 160,250.6 160.75,249.75 161.62,253.5 162.5,257.25 163.33,258.5 164.17,260.16 165,262.25 165.75,262.3 166.5,263.69 167.25,263.51 168,263.93 168.75,264.75 169.53,265.3 170.31,264.75 171.09,265.53 171.88,265.9 172.66,265.89 173.44,266.38 174.22,266 175,266.5 175.75,266.32 176.5,266.76 177.25,267.16 178,266.72 178.75,267.46 179.5,267.15 180.25,267.1 181,267.1 181.75,267.39 182.5,267.75 183.25,268.2 184,267.85 184.75,267.91 185.5,268.09 186.25,268.28 187,268.18 187.75,267.56 188.5,267.66 189.25,268.37 190,268 190.75,268.02 191.5,268.42 192.25,268.72 193,268.6 193.75,268.77 194.5,268.44 195.25,268.46 196,269.18 196.75,268.47 197.5,269 198.25,268.89 199,269.35 199.75,269.73 200.5,269.87 201.25,270.08 202,270.5 202.71,270.73 203.43,270.17 204.14,270.58 204.86,269.82 205.57,269.73 206.29,269.53 207,269.75 207.71,270.37 208.43,269.76 209.14,270.56 209.86,270.08 210.57,270.54 211.29,270.9 212,271 212.71,271.19 213.43,271.31 214.14,271.37 214.86,271.09 215.01,272.44 215.16,271.09 215.57,271.05 216.29,271.68 217,271.5 217.71,271.48 218.43,271.62 219.14,271.88 219.86,271.32 220.57,271.67 221.29,271.35 222,271.55 222.71,271.42 223.43,271.55 224.14,271.29 224.86,271.75 225.57,271.53 226.29,271.57 227,271.5 227.75,271.17 228.5,271.17 229.25,271.09 230,271.17 230.75,271 231,266.5 231.75,266.42 232.5,266.71 233.25,266.59 234,266.75 234.75,266.66 235.5,266.26 236.25,266.39 237,266.28 237.15,268.28 237.3,266.28 237.75,266.78 238.5,266.9 239.25,266.19 240,266.5 240,271 240.73,270.92 241.46,270.79 242.19,271.12 242.92,271.1 243.65,271.37 244.38,270.99 245.12,271.59 245.85,270.97 246.58,271.64 247.31,271.77 248.04,271.27 248.77,271.67 249.5,271.5 250.33,270.77 251.17,269.09 252,268.5 252.75,269.3 253.5,270.36 254.25,270.76 255,271.67 255.75,272.25 256.53,272.1 257.31,272.94 258.09,272.62 258.88,272.98 259.66,272.93 260.44,273.29 261.22,273.05 262,273.5 262.71,273.65 263.43,273.83 264.14,273.87 264.86,273.29 265.01,274.7 265.16,273.29 265.57,273.4 266.29,273.91 267,273.49 267.71,273.9 268.43,273.34 269.14,273.49 269.86,273.66 270.57,274.14 271.29,274.17 272,273.39 272.71,274.14 273.43,274.23 274.14,273.48 274.86,273.76 275.57,274.25 276.29,273.84 277,274 278.25,272.25 278.97,272.03 279.69,272.22 280.41,272.46 281.13,272.69 281.85,272.3 282.57,272.25 283.29,272.07 284.01,272.19 284.73,272.32 285.45,272.28 286.17,272.32 286.89,272.89 287.61,272.29 288.33,272.35 289.05,272.98 289.77,272.21 290.48,272.71 291.2,272.59 291.92,272.23 292.64,272.87 293.36,272.72 294.08,272.77 294.8,272.79 295.52,272.63 296.24,272.51 296.96,272.88 297.68,272.91 298.4,272.65 299.12,273 299.84,273.1 300.56,273.03 301.28,272.8 302,273 302.71,272.9 303.43,272.96 304.14,272.68 304.86,273.06 305.57,272.97 306.29,273.33 307,272.92 307.71,273.43 308.43,272.97 309.14,273.02 309.86,272.95 310.57,273.6 311.29,272.8 312,273.62 312.71,273.14 313.43,273.46 314.14,273.24 314.86,273.51 315.57,273.21 316.29,273.17 317,273.29 317.71,273.57 318.43,273.2 319.14,273.34 319.86,273.75 320.57,273.41 321.29,273.42 322,273.49 322.71,273.32 323.43,273.67 324.14,273.81 324.86,273.87 325.57,273.53 326.29,273.05 327,273.5 327.71,273.7 328.43,273.68 329.14,273.58 329.86,273.29 330.57,273.27 331.29,272.92 332,273.04 332.71,273.29 333.43,272.87 334.14,273.42 334.86,273.41 335.57,272.82 336.29,272.8 337,273.11 337.71,272.9 338.43,272.89 339.14,273.23 339.86,273.42 340.57,272.68 341.29,272.97 342,272.66 342.71,272.68 343.43,272.8 344.14,272.86 344.86,272.54 345.57,272.67 346.29,272.56 347,272.51 347.71,272.78 348.43,273.02 349.14,272.28 349.86,272.61 350.57,272.58 351.29,272.51 352,272.5 353,273.01 354,273 354.72,272.76 355.44,273.03 356.16,272.69 356.88,273.15 357.6,272.83 358.32,272.66 359.04,273.46 359.76,273.56 360.48,273.21 361.2,273.21 361.92,273.02 362.64,273.54 363.36,273.09 364.08,272.85 364.8,273.48 365.52,273.42 366.23,273.11 366.95,273.7 367.67,273 368.39,273.43 369.11,273.5 369.83,273.76 370.55,273.33 371.27,273.8 371.99,273.31 372.71,273.33 373.43,273.41 374.15,273.42 374.87,273.26 375.59,273.57 376.31,273.74 377.03,273.91 377.75,273.5 379,268.5 380.25,273.5 380.97,273.5 381.69,273.71 382.41,273.86 383.13,273.83 383.85,273.68 384.57,273.89 385.29,273.24 386.01,273.46 386.73,273.55 387.45,273.76 388.17,273.97 388.89,273.63 389.61,273.71 390.33,274.06 391.05,274.09 391.77,273.33 392.48,274.02 393.2,273.66 393.92,273.79 394.64,273.43 395.36,274.15 396.08,273.81 396.8,273.65 397.52,273.87 398.24,274.19 398.96,273.9 399.68,274.27 400.4,274.04 401.12,274.09 401.84,274.39 402.56,273.63 403.28,273.88 404,274 404.7,273.64 405.41,274.35 406.11,274 406.81,274.38 407.52,273.7 408.22,274.45 408.92,273.89 409.62,273.88 410.33,274.12 411.03,274.16 411.73,274.31 412.44,274.32 413.14,274.27 413.84,273.81 413.99,275.19 414.14,273.81 414.55,274.25 415.25,273.61 415.95,273.91 416.66,274.13 417.36,274.31 418.06,274.37 418.77,273.69 419.47,274.39 420.17,274.23 420.88,274.03 421.02,276.45 421.18,274.03 421.58,274 422.28,273.67 422.98,274.36 423.69,273.57 424.39,273.81 425.09,273.97 425.8,273.59 426.5,274 427.21,273.69 427.93,273.92 428.64,273.66 429.36,273.45 430.07,273.49 430.79,273.62 431.5,274.11 432.21,274.03 432.93,273.63 433.64,273.8 434.36,273.39 435.07,273.32 435.79,273.11 436.5,273.78 437.21,273.19 437.93,273.25 438.08,274.54 438.23,273.25 438.64,273.12 439.36,273.61 440.07,273.5 440.79,273.07 441.5,273.2 442.21,273.16 442.93,273.43 443.64,273.38 444.36,273.24 445.07,273.47 445.79,273.24 446.5,273 447.75,263.5 449,267.25 449.83,268.19 450.67,269.81 451.5,271 452.25,270.97 453,270.93 453.75,271.41 454.5,271.7 455.25,271.68 456,271.77 456.75,272.06 456.9,274.22 457.05,272.06 457.5,271.71 458.25,272.12 459,272.25 460,270.86 461,269 461.88,270.6 462.75,272.25 463.46,271.87 464.18,271.73 464.89,271.82 465.61,272.08 466.32,271.53 467.04,271.17 467.75,271.5 468.5,248.5 469,238 469.75,251 471,261 471.83,262.89 472.67,264.5 473.5,266.5 474.25,267.56 475,267.37 475.75,268.66 475.9,271 476.05,268.66 476.5,269 477.25,269.17 478,269.18 478.75,269.1 479.5,269.43 480.25,269.75 481.12,268.25 482,267.25 483.25,262.25 484,261 484.75,227.75 485.75,246 487,257.25 488,258.45 489,259.75 490,257.45 491,256 491.88,257.56 492.75,259.75 493.58,260.58 493.73,263.19 493.88,260.58 494.42,261.26 495.25,261.5 496.08,261.84 496.92,262.38 497.75,262.25 498.75,263.06 499.75,263.5 501,246.5 501.88,249.38 502.75,252.25 503.5,254.06 504.25,255.16 505,256.52 505.75,258 506.58,259.05 507.42,259.66 508.25,261 509.08,261.78 509.92,262.27 510.75,263 511.56,263.38 512.38,263.26 513.19,263.79 514,264 514.88,264.76 515.75,266 516.53,266.21 517.31,266.44 518.09,266.39 518.24,268.42 518.39,266.39 518.88,266.4 519.66,266.15 520.44,266.45 521.22,266.45 522,266.5 522.71,266.95 523.43,266.77 524.14,266.95 524.86,266.97 525.57,267.15 526.29,267.43 527,267.25 527.71,267.09 528.43,267.59 529.14,267.74 529.86,267.64 530.57,268.47 531.29,268.57 532,268.5 532.71,268.28 533.43,268.45 534.14,268.79 534.86,268.93 535.57,269.3 535.72,271.6 535.87,269.3 536.29,269 537,269 537.71,269.14 538.43,268.63 539.14,268.48 539.86,268.58 540.57,269.01 541.29,268.59 542,268.5 542.83,268.22 543.67,267.34 544.5,267.25 545.38,266.41 546.25,264.75 547,251 548,241.75 549,248.5 550,256 550.75,253.78 551.5,252.25 552.38,255.38 553.25,258.5 554.25,260.04 555.25,262.25 556,262.9 556.15,264.99 556.3,262.9 556.75,264.3 557.5,264.75" fill="none" stroke="#0a0aff" stroke-width="1.45" stroke-linejoin="round" stroke-linecap="round"/>
<path d="M53 412.35 V411.82 H54.2 V411.82 H55.4 V411.8 H56.3 V411.81 H57 V411.81 H58.2 V411.82 H58.9 V411.81 H59.3 V411.83 H59.8 V411.82 H60.5 V411.83 H61.2 V411.8 H61.7 V411.85 H62.9 V411.7 H63.6 V411.82 H64.1 V411.81 H64.8 V411.6 H65.7 V411.71 H66.4 V411.81 H67.6 V411.81 H68.1 V411.8 H68.5 V411.82 H69.2 V411.82 H70.4 V411.8 H71.3 V411.8 H71.8 V411.7 H73 V411.8 H73.9 V411.82 H74.6 V411.76 H75 V411.3 H76.2 V411.8 H76.7 V411.8 H77.1 V411.84 H77.5 V411.84 H77.9 V411.82 H78 V412.35 Z M95 412.35 V411.72 H95.9 V411.79 H96.3 V411.59 H97 V411.62 H97.7 V411.74 H98.1 V410.47 H98.6 V411 H99.8 V411.57 H100.2 V411.78 H100.9 V411.32 H101.3 V411.69 H102 V409.47 H102.4 V411.51 H103.3 V411.83 H103.8 V411.75 H104.7 V410.91 H105.6 V411.76 H106.5 V411.77 H107.4 V411.79 H108.3 V411.54 H108.7 V411.42 H109.1 V411.82 H109.6 V411.8 H110.1 V411.75 H111.3 V411.78 H111.7 V411.32 H112.9 V411.79 H113.4 V411.04 H114.6 V411.65 H115.1 V410.75 H116 V411.8 H116.7 V411.35 H117.2 V411.76 H117.9 V411.03 H118.6 V411.75 H119.8 V411.76 H120.5 V411.76 H121.7 V411.78 H122.1 V411.41 H122.5 V410.85 H123.2 V411.75 H124.4 V411.57 H125.1 V409.78 H126.3 V410.91 H127 V411.62 H127.7 V410.48 H128.9 V411.77 H129.8 V411.76 H130 V412.35 Z M130 412.35 V411.78 H131.2 V411.43 H131.6 V411.79 H132.3 V411.76 H133.2 V411.76 H133.7 V411.75 H134.1 V411.79 H135.3 V411.77 H136.2 V411.79 H137.4 V411.77 H137.8 V411.75 H138.2 V411.74 H139.1 V411.79 H139.8 V411.78 H140.3 V411.75 H141.5 V411.48 H142 V411.78 H142.9 V411.62 H143.8 V411.3 H144.5 V411.78 H144.9 V411.76 H146.1 V411.8 H147.3 V410.4 H148 V411.79 H148.5 V411.63 H148.9 V411.76 H149.3 V411.74 H150.2 V411.75 H151.1 V411.75 H152.3 V411.74 H153.2 V411.81 H153.7 V411.38 H154.9 V411.76 H155.4 V410.49 H156.6 V411.77 H157.1 V411.35 H158.3 V411.76 H159 V411.75 H160.2 V411.75 H160.6 V411.53 H161.3 V411.35 H162 V411.76 H163.2 V411.79 H163.7 V411.8 H164.1 V411.75 H164.8 V411.68 H166 V411.69 H166.5 V411.81 H167 V411.35 H167.4 V410.88 H167.9 V411.29 H168.6 V411.78 H169.5 V411.76 H170 V411.78 H171.2 V410.9 H172.4 V411.44 H173.3 V411.75 H174 V411.78 H174.4 V411.75 H174.9 V411.21 H175.8 V411.59 H176.5 V411.77 H176.9 V411.76 H177.4 V411.83 H178.1 V411.84 H178.8 V411.71 H179.7 V411.41 H180.4 V411.56 H180.9 V411.75 H181.3 V411.81 H182.2 V411.77 H182.7 V409.87 H183.2 V411.79 H183.9 V410.41 H184.4 V411.15 H185.3 V411.06 H185.8 V411.82 H186.7 V411.56 H187.6 V411.66 H188.1 V410.99 H188.8 V411.75 H189.7 V411.78 H190.2 V411.82 H190.7 V410.44 H191.9 V411.25 H192.3 V411.75 H193.5 V411.76 H193.9 V410.87 H194.8 V411.81 H195.7 V411.49 H196.6 V411.75 H197.3 V410.99 H198 V411.75 H198.5 V411.76 H198.9 V411.16 H200.1 V411.08 H200.6 V411.76 H201.5 V411.81 H201.9 V411.77 H202 V412.35 Z M202 412.35 V411.76 H202.7 V411.75 H203.4 V411.8 H204.1 V411.77 H204.6 V411.75 H205.3 V411.08 H205.7 V411.78 H206.4 V411.75 H207.3 V410.55 H207.7 V411.75 H208.6 V411.28 H209.5 V411.77 H210.7 V411.18 H211.6 V411.78 H212.5 V411.75 H212.9 V411.77 H214.1 V411.53 H215 V411.6 H215.9 V410.76 H216.4 V410.89 H217.3 V411.33 H217.7 V411.79 H218.4 V411.78 H219.1 V411.72 H219.8 V411.23 H220.5 V411.76 H221.7 V411.74 H222.2 V411.46 H223.4 V411.78 H223.9 V411.04 H225.1 V411.72 H225.5 V411.82 H225.9 V411.45 H227.1 V411.59 H228 V410.88 H228.9 V411.71 H229.3 V411.75 H230.5 V411.03 H231.7 V411.79 H232.1 V411.83 H232.5 V411.09 H232.9 V411.3 H234.1 V411.02 H234.8 V411.74 H235.3 V411.82 H236 V411.8 H236.7 V411.79 H237.1 V411.74 H237.6 V411.74 H238.1 V411.75 H238.8 V411.76 H240 V411.74 H240.5 V411.78 H241.7 V411.81 H242.9 V411.8 H243.3 V411.74 H243.7 V409.95 H244.9 V411.01 H245.6 V411.83 H246 V412.35 Z M246 412.35 V409.48 H246.4 V410.36 H247.1 V410.04 H248 V407.72 H248.5 V411.51 H249 V411.6 H250.2 V411.64 H250.6 V411.22 H251.5 V411.63 H251.9 V410.37 H253.1 V411.33 H253.6 V411.69 H254.5 V411.22 H255.7 V409.98 H256.6 V411.7 H257 V411.29 H258.2 V411.33 H258.9 V407.54 H259.6 V410.01 H260.1 V409.09 H260.5 V410.06 H260.9 V408.12 H261.4 V410.35 H261.9 V411.25 H263.1 V409.6 H263.5 V408.25 H263.9 V411.39 H264.8 V410.74 H265.7 V411.25 H266.9 V411.55 H267.6 V411.55 H268.5 V409.04 H268.9 V411.77 H269.8 V410.66 H270.2 V411.43 H271.1 V411.28 H271.6 V411.71 H272.3 V411.45 H272.7 V406.68 H273.9 V410.96 H274.4 V411.28 H275.3 V410.97 H275.7 V409.81 H276.4 V411.72 H277.1 V411.73 H278.3 V411.11 H279.2 V410.11 H280.1 V409.41 H280.8 V411.53 H281.3 V409.78 H281.8 V409.85 H282.3 V410.42 H283.2 V411.12 H283.9 V409.7 H284.4 V411.76 H284.9 V411.42 H286.1 V409.38 H286.5 V409.46 H287 V410.06 H287.4 V410.1 H288.3 V410.18 H288.7 V410.57 H289.6 V410.68 H290 V412.35 Z M290 412.35 V411.06 H290.9 V409.09 H291.6 V411.28 H292.8 V409.34 H293.2 V409.22 H294.1 V410.5 H295.3 V411.47 H295.8 V411.74 H296.7 V411.65 H297.2 V411.45 H297.6 V411.32 H298.3 V411.06 H299.2 V411.73 H299.7 V411.72 H300.4 V411.67 H301.3 V408.45 H302.2 V409.19 H302.9 V411.77 H303.6 V410.33 H304 V411.33 H305.2 V411.67 H306.1 V411.49 H307 V411.67 H307.7 V411.15 H308.1 V408.43 H308.6 V411.34 H309.1 V411.69 H309.5 V411.51 H310.7 V410.58 H311.6 V410.47 H312 V411.41 H312.7 V411.69 H313.1 V411.74 H313.8 V411.46 H315 V411.72 H315.9 V411.66 H316.3 V410.29 H317.2 V411.7 H317.9 V409.33 H319.1 V410.29 H320 V411.28 H321.2 V410.94 H321.6 V411.6 H322.1 V411.68 H323 V411.51 H323.5 V410.14 H324 V410.09 H325.2 V411.62 H325.9 V411.81 H326.8 V411.68 H328 V411.49 H328.4 V411.71 H329.3 V411.64 H330 V412.35 Z M330 412.35 V411.76 H331.2 V411.8 H331.6 V410.33 H332.1 V410.84 H333.3 V411.76 H333.7 V411.76 H334.2 V411.73 H334.7 V411.81 H335.4 V411.74 H335.8 V411.5 H336.5 V411.33 H337.4 V411.5 H338.6 V411.84 H339.3 V409.49 H339.8 V411.77 H340.3 V411.72 H341 V411.5 H342.2 V411.17 H343.4 V411.72 H343.8 V411.65 H344.2 V411.46 H344.9 V411.78 H346.1 V411.53 H346.8 V411.81 H347.7 V411.19 H348.6 V411.8 H349.1 V411.79 H349.6 V411.26 H350.5 V410.99 H351 V411.72 H352.2 V410.32 H352.6 V411.7 H353 V411.55 H353.5 V411.82 H353.9 V411.77 H354.8 V410.76 H355.2 V411.53 H355.6 V411.73 H356.1 V410.53 H356.8 V411.69 H357.3 V411.45 H358 V410.98 H358.5 V411.81 H359.4 V411.59 H360.3 V411.74 H361 V411.33 H361.7 V411.47 H362.2 V411.79 H362.6 V411.42 H363 V411.79 H364.2 V410.81 H364.9 V411.78 H365.3 V410.16 H366.2 V410.67 H367.4 V411.79 H367.75 V412.35 Z M376 412.35 V411.83 H376.9 V411.8 H377.3 V411.23 H378 V411.81 H378.4 V411.51 H379.1 V411.8 H379.5 V411.54 H379.9 V411.42 H380.3 V411.63 H381.2 V411.8 H381.6 V410.59 H382.5 V411.8 H383.2 V411.81 H383.7 V411.81 H384.6 V411.59 H385.3 V411.6 H386 V411.79 H386.4 V411.77 H387.1 V411.71 H387.8 V411.06 H388.7 V411.78 H389.1 V411.63 H390.3 V411.78 H390.7 V411.45 H391.2 V411.81 H391.6 V411.77 H392.1 V411.12 H392.8 V411.77 H393.5 V411.79 H393.9 V411.78 H394.3 V411.81 H394.8 V411.82 H395.3 V411.78 H395.7 V411.6 H396.4 V411.8 H397.6 V411.83 H398 V411.77 H399.2 V411.01 H400.4 V411.5 H401.1 V411.5 H402 V411.43 H402.7 V411.82 H403.2 V411.78 H404.1 V411.79 H404.5 V411.08 H405.7 V411.78 H406.9 V410.75 H407.8 V411.78 H408.5 V411.81 H409.4 V410.67 H409.9 V411.68 H410.8 V411.82 H411.7 V411.82 H412.1 V410.66 H412.8 V411.79 H413.7 V411.58 H414.2 V411.5 H415.1 V411.58 H416.3 V411.58 H416.7 V411.78 H417.4 V411.78 H417.8 V411.39 H418.3 V411.77 H419 V411.76 H420.2 V411.77 H421.1 V411.81 H421.5 V411.81 H421.9 V411.57 H422.8 V411.81 H423.5 V411.4 H424.7 V411.78 H425.2 V411.8 H426.4 V411.71 H427.6 V411.79 H428.3 V411.79 H429.2 V411.78 H430.1 V411.78 H431.3 V411.78 H432 V411.8 H432.5 V411.62 H432.9 V411.58 H433.4 V411.74 H434.3 V411.78 H435 V411.8 H435.5 V411.82 H436.4 V411.82 H436.8 V411.8 H437.2 V411.79 H438.1 V411.79 H438.6 V410.49 H439.1 V410.81 H439.8 V410.79 H440 V412.35 Z M440 412.35 V411.78 H440.5 V411.83 H441.7 V411.78 H442.9 V411.43 H443.4 V411.79 H443.8 V411.79 H445 V411.71 H445.5 V411.8 H446.7 V411.78 H447.2 V411.43 H447.7 V411.81 H448.4 V411.77 H449.6 V411.79 H450 V411.81 H450.5 V411.79 H451 V411.58 H452.2 V411.81 H453.1 V411.32 H454.3 V411.57 H455.2 V411.78 H455.6 V411.82 H456.1 V410.46 H456.8 V411.79 H457.2 V411.79 H458.1 V411.82 H458.8 V410.46 H459.7 V411.55 H460.1 V411.83 H460.8 V411.08 H461.7 V411.69 H462.6 V410.94 H463.8 V411.8 H464.3 V411.8 H465.5 V411.79 H466.2 V411.79 H466.6 V411.67 H467 V411.53 H467.5 V411.48 H468.7 V411.49 H469.1 V411.66 H469.5 V411.79 H470.7 V410.95 H471.6 V411.79 H472.8 V411.66 H473.7 V411.79 H474.9 V411.66 H475.4 V411.26 H475.9 V411.78 H476.8 V411.79 H477.3 V411.79 H478.2 V411.8 H478.6 V411.8 H479.1 V411.8 H479.5 V411.78 H479.9 V411.78 H480.3 V411.41 H481.5 V411.72 H482.2 V411.79 H483.4 V411.81 H484.3 V411.84 H485 V411.63 H485.5 V411.81 H486.7 V411.8 H487.9 V411.11 H488.8 V411.71 H489.7 V411.81 H490.6 V410.46 H491.5 V411.79 H492 V411.16 H493.2 V411.78 H493.6 V411.78 H494.5 V411.81 H495 V411.55 H495.7 V411.02 H496.9 V411.52 H497.3 V410.94 H497.7 V411.8 H498.9 V411.8 H499.3 V411.46 H499.7 V410.59 H500.9 V411.82 H501.8 V411.68 H502.5 V411.81 H503.7 V411.78 H504.2 V411.58 H505.4 V411.81 H505.8 V411.77 H506.3 V411.78 H507.5 V411.8 H508.4 V411.82 H509.6 V411.33 H510.1 V411.82 H510.6 V411.83 H511 V411.81 H511.5 V411.83 H512.7 V411.8 H513.1 V411.71 H513.5 V411.52 H514.7 V411.81 H515.6 V411.79 H516 V411.8 H516.5 V411.81 H517.7 V411.78 H518.2 V411.54 H518.9 V411.48 H519.8 V410.57 H520.3 V411.82 H521 V411.78 H521.5 V411.79 H522.4 V411.81 H522.9 V411.78 H523.6 V410.95 H524.1 V411.21 H525.3 V411.36 H526.5 V411.1 H527.7 V411.58 H528.4 V411.52 H529.1 V411.79 H530 V411.68 H530.7 V411.82 H531.2 V411.83 H531.7 V411.81 H532.2 V411.78 H533.1 V411.78 H533.5 V411.8 H533.9 V411.81 H534.6 V411.79 H535.8 V411.79 H537 V411.78 H537.4 V411.65 H537.8 V411.82 H538.7 V411.74 H539.6 V411.85 H540.5 V411.79 H541 V411.82 H542.2 V411.6 H542.9 V411.82 H543.6 V411.8 H544 V411.79 H544.7 V411.83 H545.4 V410.66 H546.1 V411.84 H547.3 V411.78 H548.5 V411.36 H548.9 V411.8 H549.3 V411.8 H550.5 V411.32 H551.2 V411.79 H552.1 V411.79 H552.8 V411.79 H553.7 V411.33 H554.1 V411.76 H554.6 V411.83 H555 V411.78 H556.2 V411.8 H556.7 V411.1 H557.1 V411.26 H558 V411.79 H558 V412.35 Z" fill="#000" stroke="#000" stroke-width="0.45"/>
<path d="M53 411.85 H78 M95 411.85 H130 M130 411.85 H202 M202 411.85 H246 M246 411.85 H290 M290 411.85 H330 M330 411.85 H367.75 M376 411.85 H440 M440 411.85 H558 M63.75 411.85 V394 M68.75 411.85 V398.5 M72.5 411.85 V385.25 M97 411.85 V407 M102 411.85 V399 M103.75 411.85 V406.5 M105.5 411.85 V408 M113.75 411.85 V390.25 M114.3 411.85 V396 M120.75 411.85 V405.25 M130 411.85 V408 M136 411.85 V408.5 M145.75 411.85 V389 M146.4 411.85 V398 M148 411.85 V408 M160 411.85 V404 M178.25 411.85 V404.5 M193 411.85 V400.25 M250.75 411.85 V402.75 M259.5 411.85 V400.25 M263.75 411.85 V381.5 M269.5 411.85 V395.25 M273.25 411.85 V402 M280 411.85 V398.5 M282 411.85 V401.5 M294.25 411.85 V386.5 M298.25 411.85 V404 M309.25 411.85 V389 M317.75 411.85 V283.75 M319.5 411.85 V401.5 M346.5 411.85 V351 M360.75 411.85 V396.5 M378.25 411.85 V404 M401.5 411.85 V408.5 M407 411.85 V407.75 M425.5 411.85 V352 M444 411.85 V407.75 M446.5 411.85 V408.5 M487.75 411.85 V401.5 M540.75 411.85 V404 M543.25 411.85 V409 M546.5 411.85 V408.5" fill="none" stroke="#000" stroke-width="1.2"/>
<path d="M112.6 411.85 L113.9 390 L115.2 411.85 Z" fill="#000"/>
<path d="M144.6 411.85 L145.9 389 L147.2 411.85 Z" fill="#000"/>
<polyline points="53,384.5 54,386.85 55,389 55.83,390.28 56.67,390.88 57.5,391.5 58.33,392.24 59.17,392.05 60,392 60.83,392.5 61.67,393.04 62.5,393.5 63.25,393 64,390.97 64.75,390.12 64.9,392.41 65.05,390.12 65.5,389 66.33,390.33 67.17,391.49 68,392 68.83,392.74 69.67,392.8 69.82,395.76 69.97,392.8 70.5,394 71.5,394.32 72.5,395.25 73.5,396.68 74.5,397 75.33,395.64 76.17,394.97 77,394.5 77.83,392.81 78.67,392.23 79.5,391.5 80.33,389.81 81.17,388.35 82,387.75 82.88,385.97 83.75,383.5 84.62,385.1 85.5,387.75 86.5,387.84 87.5,389 88.25,354 88.75,325.25 89.5,341.5 90.5,361.5 91.75,375.25 93,365.25 94,376.5 94.75,377.96 95.5,380.25 96.25,382.75 97.08,384.22 97.92,385.21 98.75,386.5 99.58,387.39 100.42,387.9 101.25,389 102.12,389.6 103,390.25 104.25,373.5 105.5,376.5 106.75,373.5 107.5,376.02 108.25,377.75 109.12,380.62 110,383.5 110.88,386.25 111.75,389 113,391.5 114,361.5 115,374 116.25,381.5 117.08,384 117.92,386.5 118.75,389 119.5,389.74 120.25,391.28 121,391.99 121.75,392.35 122.5,394 123.21,394.68 123.93,395.02 124.64,395.62 125.36,396.67 126.07,396.65 126.22,398.57 126.37,396.65 126.79,397.64 127.5,397.75 128.21,397.38 128.93,398.4 129.64,397.99 130.36,398.83 131.07,399.11 131.79,399.25 132.5,399 133.21,399.62 133.93,399.34 134.64,399.81 135.36,399.74 136.07,398.96 136.79,399.76 137.5,399.75 138.21,399.4 138.93,400.52 139.64,400.56 140.36,400.14 141.07,400.36 141.22,403.25 141.37,400.36 141.79,400.06 142.5,400.25 143.33,400.94 144.17,400.11 144.32,402.71 144.47,400.11 145,401 145.75,366.5 146.5,326.5 147.5,349 148.75,369 150,377.75 150.83,380.24 151.67,381.37 152.5,384 153.33,385.25 154.17,386.18 155,386.5 155.88,387.11 156.75,387 158,377.75 159.25,383.5 160,381.2 160.15,383.95 160.3,381.2 160.75,380.25 161.62,383.38 162.5,386.5 163.33,387.92 164.17,389.6 165,391.5 165.75,392.39 166.5,392.88 167.25,393.78 168,394.54 168.75,396 169.5,395.98 170.25,397.06 171,397.69 171.75,397.33 172.5,398.5 173.21,398.52 173.93,398.65 174.64,399.72 174.79,401.73 174.94,399.72 175.36,399.34 176.07,400.06 176.79,399.36 177.5,400.25 178.21,401.1 178.93,400.07 179.64,400.99 180.36,400.73 181.07,400.5 181.79,401.73 182.5,401.5 183.21,402.01 183.93,402.24 184.64,401.99 185.36,401.51 186.07,401.94 186.79,401.84 187.5,402.25 188.25,402.77 189,401.78 189.75,402.73 190.5,401.97 191.25,402 192.12,400.19 193,399.5 193.75,400.65 194.5,402.75 195.25,402.22 196,402.84 196.75,402.67 197.5,403.61 198.25,402.86 199,404.07 199.75,403.72 200.5,404.27 201.25,404.43 202,404 202.71,403.76 203.43,404.26 204.14,403.78 204.86,403.45 205.57,403.7 206.29,403.51 207,403.5 207.71,403.02 208.43,403.01 209.14,402.9 209.86,403.67 210.57,403.39 211.29,402.79 212,402.75 212.71,402.64 213.43,403.77 214.14,403.29 214.86,403.09 215.57,404.07 216.29,404.7 217,404.5 217.71,404.69 218.43,404.3 219.14,404.34 219.86,404.03 220.57,405.15 220.72,407.64 220.87,405.15 221.29,403.99 222,404.37 222.71,404.55 223.43,404.46 224.14,404.32 224.29,405.55 224.44,404.32 224.86,404.77 225.57,404.95 226.29,405.42 227,404.75 227.71,404.65 228.43,404.3 229.14,405.05 229.86,404.3 230.57,404.57 231.29,404.47 232,404.87 232.71,404.88 232.86,407.04 233.01,404.88 233.43,404.87 234.14,405.26 234.86,404.97 235.57,404.28 236.29,404.45 237,404.75 238,401 239,404.75 239.7,404.83 240.4,405.01 241.1,404.17 241.8,404.45 242.5,405.23 243.2,404.69 243.9,404.77 244.6,404.56 245.3,404.47 246,405.42 246.7,405.49 247.4,405.01 248.1,405.39 248.8,405.52 249.5,405.25 250.5,391.5 251.25,390.25 252,394 252.75,397.75 253.5,399.34 254.25,400.92 255,402 255.81,402.92 256.62,403.46 257.44,404.06 258.25,404 259.03,404.39 259.81,403.95 260.59,404.92 261.38,404.09 262.16,405.2 262.94,404.24 263.72,404.95 264.5,405 265.24,404.68 265.97,404.42 266.71,405.15 267.44,405.11 268.18,404.95 268.91,405.21 269.06,406.77 269.21,405.21 269.65,405 270.38,404.81 271.12,405.95 271.85,405.17 272.59,405.62 273.32,405.44 274.06,404.82 274.79,405.26 275.53,405.25 276.26,405.08 277,405.5 277.7,405.27 278.4,404.83 279.1,405.57 279.25,407.72 279.4,405.57 279.8,405.04 280.5,405.5 281.5,401.5 282.5,405.5 283.22,406.12 283.93,405.36 284.65,405.49 285.37,405.36 286.09,405.89 286.8,406.18 287.52,405.78 288.24,406.09 288.96,406.02 289.67,405.33 290.39,404.97 291.11,405.32 291.83,405.06 292.54,405.23 292.69,407.87 292.84,405.23 293.26,406.12 293.98,405.76 294.7,405.11 295.41,405.7 296.13,405.95 296.85,405.86 297.57,405.62 298.28,405.03 299,405.5 300,401.5 301,405.5 301.71,405.94 302.42,406.11 303.13,405.32 303.84,405.34 304.55,405.98 304.7,407.19 304.85,405.98 305.26,405.35 305.97,405.94 306.68,404.79 307.39,405.77 308.11,405.12 308.82,404.68 309.53,405.88 310.24,405.87 310.95,405.4 311.66,404.79 312.37,405.98 313.08,405.66 313.79,404.92 314.5,405.25 315.25,405.39 316,405.44 316.75,404.47 316.9,407.08 317.05,404.47 317.5,404.37 318.25,404 318.98,403.49 319.71,404.6 320.44,403.79 321.17,404.27 321.9,405.1 322.62,403.8 323.35,404.08 324.08,404.71 324.81,405.32 325.54,404.37 325.69,406.96 325.84,404.37 326.27,404.87 327,405 327.7,404.9 328.4,405.29 329.1,404.93 329.8,405.16 330.5,404.85 331.2,405.14 331.9,404.68 332.6,405.12 333.3,404.91 334,405.01 334.15,407.83 334.3,405.01 334.7,404.58 334.85,405.94 335,404.58 335.4,404.53 336.1,405.21 336.8,405.3 337.5,404.48 338.2,405.18 338.9,404.12 339.05,406.57 339.2,404.12 339.6,404.41 340.3,404.05 341,404.33 341.7,405.27 342.4,404.97 343.1,405.05 343.8,405.1 344.5,404.5 345.42,404.67 346.33,404 346.48,406.57 346.63,404 347.25,404 347.75,388.5 348.5,404 349.42,404.35 350.33,404.69 351.25,404.5 352.5,401 353.5,404.5 354,404.5 354.71,403.9 355.43,405.21 356.14,405.01 356.86,404.55 357.57,404.82 358.29,404.59 359,404.75 359.75,405.39 360.5,405.32 361.25,404.88 362,404.62 362.75,404.44 363.5,404.6 364.25,404.39 365,404.36 365.75,404.7 366.5,404.75 367.25,404 367.75,398.5 368.5,404.75 369.21,404.44 369.92,405.13 370.62,404.22 371.33,404.33 372.04,404.38 372.75,404.75" fill="none" stroke="#0a0aff" stroke-width="1.45" stroke-linejoin="round" stroke-linecap="round"/>
<polyline points="376,404 376.88,403.85 377.75,403.5 378.25,390.25 379,402.75 379.71,403.44 380.43,403.46 381.14,404.07 381.86,403.96 382.57,404 383.29,404.29 384,404.5 384.75,405.17 385.5,404.32 386.25,404.64 386.4,406.94 386.55,404.64 387,405.03 387.75,405.24 388.5,404.88 389.25,404.31 389.4,407.28 389.55,404.31 390,404.6 390.75,405.51 391.5,405 392.23,404.39 392.96,404.47 393.69,404.06 394.42,404.39 395.15,404.14 395.88,403.85 396.6,404.76 397.33,403.81 398.06,403.72 398.79,403.55 399.52,403.67 400.25,404 401.12,401.25 402,398.5 403.25,402.75 404.25,402.69 405.25,402.75 406.12,399 407,395.25 407.75,398.12 408.5,401 409.25,401.84 410,401.27 410.75,402.14 411.5,402.75 412.25,402.33 413,402.32 413.75,403.05 414.5,403.79 415.25,402.9 416,403.66 416.15,405.01 416.3,403.66 416.75,403.77 417.5,403.7 418.25,403.88 419,404 419.71,404.6 420.43,404.12 420.58,406.03 420.73,404.12 421.14,404.64 421.86,403.73 422.57,404.65 423.29,404.13 424,404.86 424.71,405.04 425.43,405.08 426.14,405.23 426.86,404.91 427.57,405.35 428.29,405.24 429,405 429.71,404.45 430.43,405.15 431.14,404.63 431.86,405.7 432.57,405.69 433.29,405.21 434,405.38 434.15,408.27 434.3,405.38 434.71,405.02 435.43,405.6 436.14,404.53 436.29,407.14 436.44,404.53 436.86,405.6 437.57,404.67 438.29,405.65 439,405.25 439.75,405.51 440.5,405.11 441.25,403.82 441.4,406.58 441.55,403.82 442,404.42 442.75,404 444,398.5 445.25,402 446.5,399 447.75,379 449,386.5 450,390.25 451,394 451.83,395.02 452.67,396.49 453.5,397.75 454.75,386.5 456,381.5 457,392.75 457.75,385.88 458.5,379 459.25,371.5 460,380.25 460.75,362 461.5,369 462.25,379 463.12,380.29 464,382.75 464.83,382.81 465.67,383.8 466.5,384.5 467.75,376.5 469,346.5 470.25,361.5 471.12,367.12 472,372.75 473,375.31 474,377.75 475.25,371 476.5,379 477.75,380.25 478.5,354 479.25,327.25" fill="none" stroke="#0a0aff" stroke-width="1.45" stroke-linejoin="round" stroke-linecap="round"/>
<polyline points="488.25,369.75 489.5,370.25 490.25,369.1 491,367.75 491.75,370.88 492.5,374 493.5,374.69 494.5,376 495.33,376.88 496.17,376.23 497,377 497.83,378.25 498.67,379.82 499.5,380.25 500.25,369 501,358.5 501.88,361.25 502.75,364 503.5,366 504.25,366.47 505,368.12 505.15,370.41 505.3,368.12 505.75,369.5 506.5,370.83 507.25,371.99 508,372.58 508.75,372.96 508.9,375.93 509.05,372.96 509.5,374.5 510.25,374.85 511,376.36 511.75,375.92 512.5,376.74 513.25,377.75 514.08,378.48 514.92,380.31 515.75,382 516.5,382.06 517.25,382.35 518,383.85 518.75,383.47 519.5,384.5 520.5,383.47 521.5,383.5 522.33,384.05 523.17,385.42 524,387 524.75,387.72 525.5,387.96 526.25,388.55 527,389 527.75,388.98 528.5,389.47 529.25,390.14 530,390.52 530.15,392.7 530.3,390.52 530.75,390.25 531.5,390.27 532.25,390.99 533,390.08 533.75,390.81 533.9,392.16 534.05,390.81 534.5,390.75 535.25,390.94 536,390.8 536.75,390.91 537.5,391.48 538.25,391 539.12,387.5 540,384 541,384.33 542,386 543,385.17 544,383.5 544.88,383.45 545.75,384.5 547,369 547.75,356.5 549,362.75 550.25,367.75 551.5,367 552.38,369.88 553.25,372.75 554.25,375.05 555.25,377 556,378.01 556.75,379.32 557.5,379.5" fill="none" stroke="#0a0aff" stroke-width="1.45" stroke-linejoin="round" stroke-linecap="round"/>
<path d="M52.6 1.4 H558.2 V417.6 H52.6 Z" stroke="#0c0c0c" stroke-width="1.3" fill="none"/>
<path d="M52.6 140 H558.2 M52.6 278.9 H558.2" stroke="#0c0c0c" stroke-width="1.3" fill="none"/>
<path d="M52.6 417.6 v4.6 M95.52 417.6 v4.6 M134.29 417.6 v4.6 M177.21 417.6 v4.6 M218.74 417.6 v4.6 M261.66 417.6 v4.6 M303.19 417.6 v4.6 M346.11 417.6 v4.6 M389.03 417.6 v4.6 M430.57 417.6 v4.6 M473.49 417.6 v4.6 M515.02 417.6 v4.6 M95.52 140 v4.6 M95.52 278.9 v4.6 M134.29 140 v4.6 M134.29 278.9 v4.6 M177.21 140 v4.6 M177.21 278.9 v4.6 M218.74 140 v4.6 M218.74 278.9 v4.6 M261.66 140 v4.6 M261.66 278.9 v4.6 M303.19 140 v4.6 M303.19 278.9 v4.6 M346.11 140 v4.6 M346.11 278.9 v4.6 M389.03 140 v4.6 M389.03 278.9 v4.6 M430.57 140 v4.6 M430.57 278.9 v4.6 M473.49 140 v4.6 M473.49 278.9 v4.6 M515.02 140 v4.6 M515.02 278.9 v4.6" stroke="#0c0c0c" stroke-width="1.3" fill="none"/>
<path d="M52.6 135.1 h-7.3 M52.6 104.48 h-7.3 M52.6 73.86 h-7.3 M52.6 43.24 h-7.3 M52.6 12.62 h-7.3 M52.6 273.7 h-7.3 M52.6 246.95 h-7.3 M52.6 220.2 h-7.3 M52.6 193.45 h-7.3 M52.6 166.7 h-7.3 M52.6 412 h-7.3 M52.6 377.7 h-7.3 M52.6 343.4 h-7.3 M52.6 309.1 h-7.3 M558.2 135.2 h7.3 M558.2 109.45 h7.3 M558.2 83.7 h7.3 M558.2 57.95 h7.3 M558.2 32.2 h7.3 M558.2 6.45 h7.3 M558.2 274 h7.3 M558.2 248.25 h7.3 M558.2 222.5 h7.3 M558.2 196.75 h7.3 M558.2 171 h7.3 M558.2 145.25 h7.3 M558.2 412.6 h7.3 M558.2 386.85 h7.3 M558.2 361.1 h7.3 M558.2 335.35 h7.3 M558.2 309.6 h7.3 M558.2 283.85 h7.3" stroke="#0c0c0c" stroke-width="1.3" fill="none"/>
<g font-size="11.7" fill="#111" stroke="#111" stroke-width="0.26" font-family="'Liberation Sans', sans-serif">
<text x="42.6" y="139.55" text-anchor="end">0</text>
<text x="42.6" y="108.93" text-anchor="end">200</text>
<text x="42.6" y="78.31" text-anchor="end">400</text>
<text x="42.6" y="47.69" text-anchor="end">600</text>
<text x="42.6" y="17.07" text-anchor="end">800</text>
<text x="42.6" y="278.15" text-anchor="end">0</text>
<text x="42.6" y="251.4" text-anchor="end">200</text>
<text x="42.6" y="224.65" text-anchor="end">400</text>
<text x="42.6" y="197.9" text-anchor="end">600</text>
<text x="42.6" y="171.15" text-anchor="end">800</text>
<text x="42.6" y="416.45" text-anchor="end">0</text>
<text x="42.6" y="382.15" text-anchor="end">200</text>
<text x="42.6" y="347.85" text-anchor="end">400</text>
<text x="42.6" y="313.55" text-anchor="end">600</text>
<text x="569.4" y="139.65">0.0</text>
<text x="569.4" y="113.9">0.2</text>
<text x="569.4" y="88.15">0.4</text>
<text x="569.4" y="62.4">0.6</text>
<text x="569.4" y="36.65">0.8</text>
<text x="569.4" y="10.9">1.0</text>
<text x="569.4" y="278.45">0.0</text>
<text x="569.4" y="252.7">0.2</text>
<text x="569.4" y="226.95">0.4</text>
<text x="569.4" y="201.2">0.6</text>
<text x="569.4" y="175.45">0.8</text>
<text x="569.4" y="149.7">1.0</text>
<text x="569.4" y="417.05">0.0</text>
<text x="569.4" y="391.3">0.2</text>
<text x="569.4" y="365.55">0.4</text>
<text x="569.4" y="339.8">0.6</text>
<text x="569.4" y="314.05">0.8</text>
<text x="569.4" y="288.3">1.0</text>
<text x="52.6" y="437" text-anchor="middle">Jan</text>
<text x="95.52" y="437" text-anchor="middle">Feb</text>
<text x="134.29" y="437" text-anchor="middle">Mar</text>
<text x="177.21" y="437" text-anchor="middle">Apr</text>
<text x="218.74" y="437" text-anchor="middle">May</text>
<text x="261.66" y="437" text-anchor="middle">Jun</text>
<text x="303.19" y="437" text-anchor="middle">Jul</text>
<text x="346.11" y="437" text-anchor="middle">Aug</text>
<text x="389.03" y="437" text-anchor="middle">Sep</text>
<text x="430.57" y="437" text-anchor="middle">Oct</text>
<text x="473.49" y="437" text-anchor="middle">Nov</text>
<text x="515.02" y="437" text-anchor="middle">Dec</text>
</g>
<path d="M286.2 25.8 H306" stroke="#111" stroke-width="1.1"/>
<path d="M286.2 38.6 H306" stroke="#0a0aff" stroke-width="1.2"/>
<g font-size="10.6" fill="#111" stroke="#111" stroke-width="0.22" font-family="'Liberation Sans', sans-serif"><text x="315.6" y="29.9">Turbidity</text><text x="315.6" y="42.7">Stage</text></g>
<g font-size="14.4" font-weight="bold" fill="#111" font-family="'Liberation Sans', sans-serif">
<text x="104.6" y="18.1">Site A</text><text x="104.6" y="157.1">Site B</text><text x="104.6" y="295.1">Site E</text>
<text x="304.4" y="454.7" text-anchor="middle">2013</text>
<text transform="translate(11.4,70.6) rotate(-90)" text-anchor="middle">Turbidity (NTU)</text>
<text transform="translate(604.9,71.2) rotate(-90)" text-anchor="middle">Stage (m)</text>
<text transform="translate(11.4,209.4) rotate(-90)" text-anchor="middle">Turbidity (NTU)</text>
<text transform="translate(604.9,210) rotate(-90)" text-anchor="middle">Stage (m)</text>
<text transform="translate(11.4,348.2) rotate(-90)" text-anchor="middle">Turbidity (NTU)</text>
<text transform="translate(604.9,348.8) rotate(-90)" text-anchor="middle">Stage (m)</text>
</g>
</svg>
</body></html>
